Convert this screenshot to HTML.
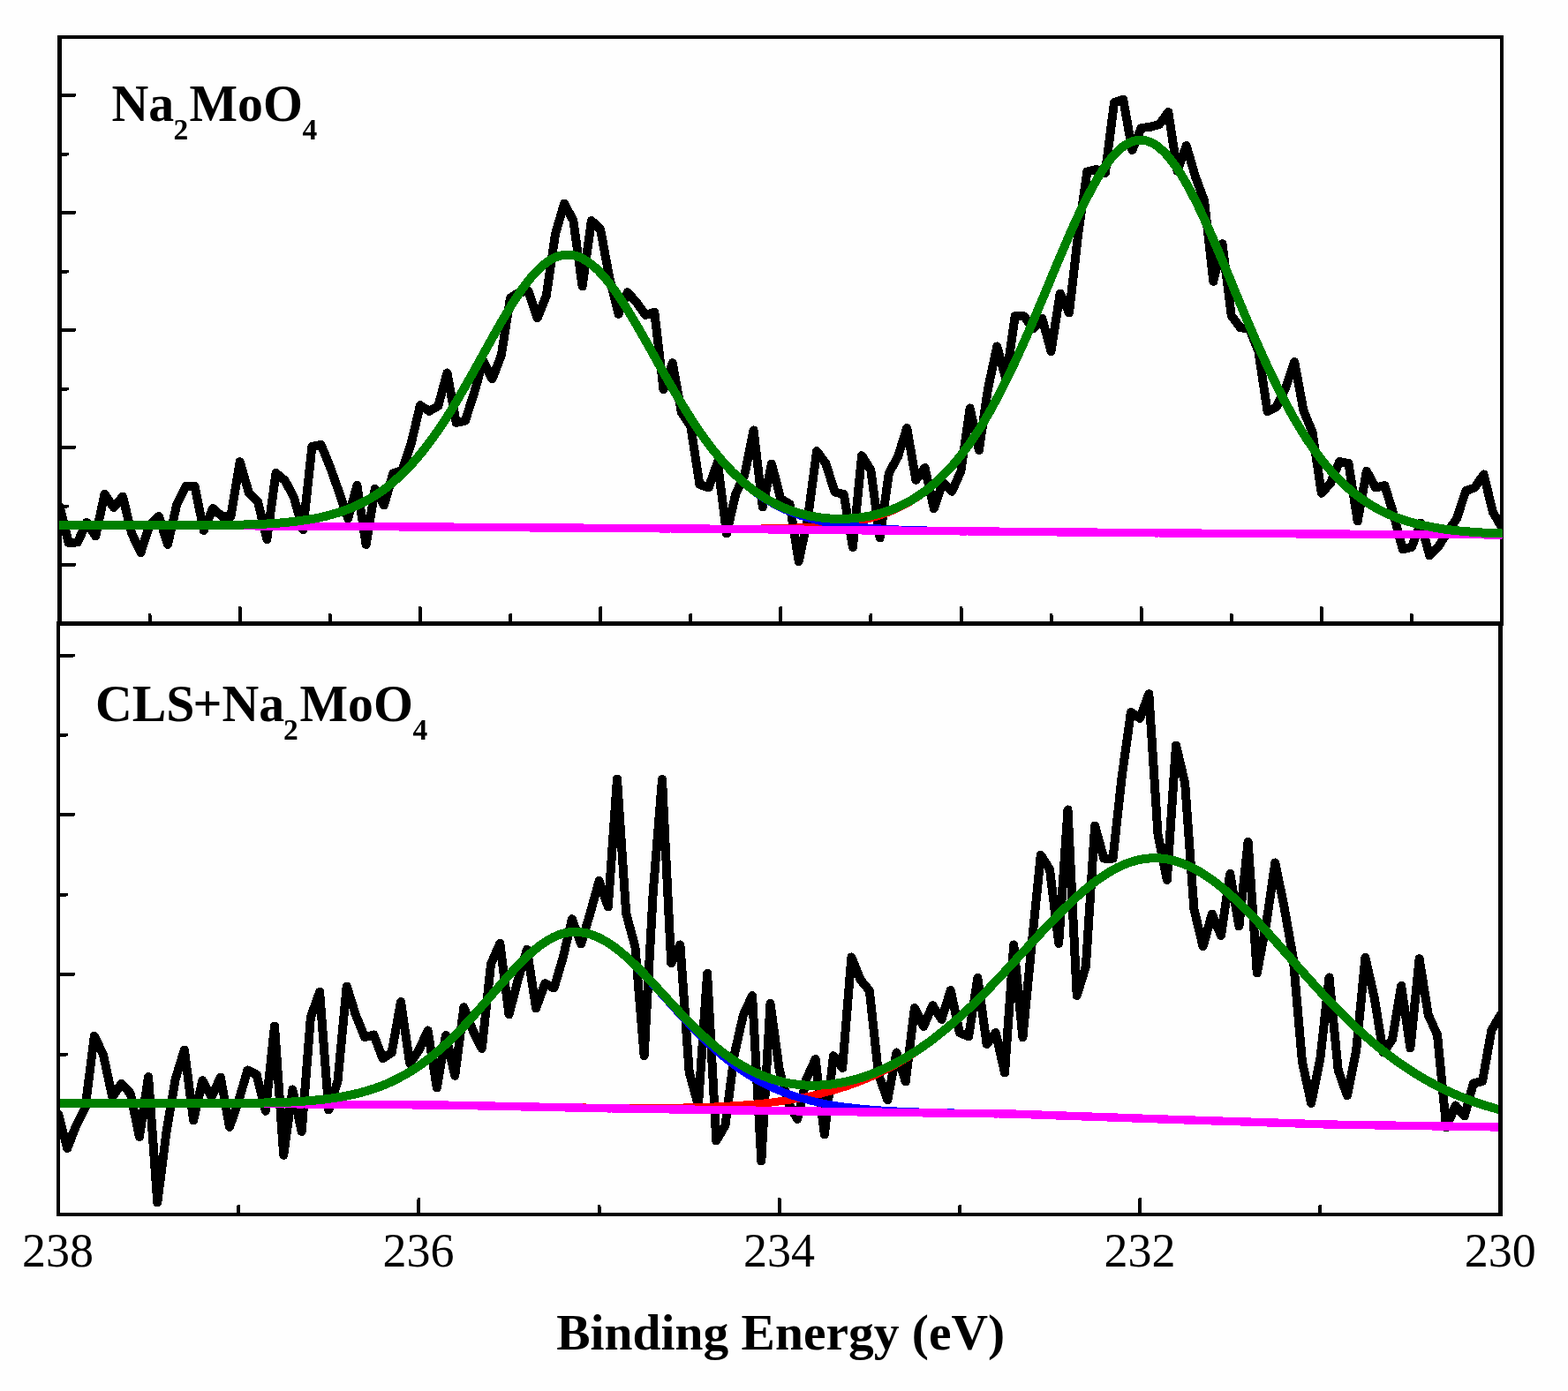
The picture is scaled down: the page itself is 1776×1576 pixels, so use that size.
<!DOCTYPE html>
<html lang="en"><head><meta charset="utf-8"><title>XPS Mo 3d spectra</title>
<style>html,body{margin:0;padding:0;background:#fefefe}svg{display:block}</style></head>
<body>
<svg width="1776" height="1576" viewBox="0 0 1776 1576">
<rect width="1776" height="1576" fill="#fefefe"/>
<g fill="#000" shape-rendering="crispEdges">
<rect x="65" y="40" width="5" height="669"/>
<rect x="65" y="40" width="1638" height="4"/>
<rect x="1699" y="40" width="4" height="669"/>
<rect x="64" y="704" width="1639" height="5"/>
<rect x="64" y="704" width="4" height="674"/>
<rect x="1697" y="704" width="5" height="674"/>
<rect x="64" y="1374" width="1638" height="4"/>
</g>
<defs><clipPath id="ct"><rect x="67" y="44" width="1635" height="660"/></clipPath><clipPath id="cb"><rect x="68" y="709" width="1629" height="665"/></clipPath></defs>
<g fill="none" stroke-width="9.4" stroke-linejoin="round" stroke-linecap="round" shape-rendering="crispEdges" clip-path="url(#ct)">
<polyline points="67.5,573.5 77.7,614.9 87.9,614.4 98.1,591.9 108.3,607.4 118.5,559.9 128.8,574.9 139.0,562.7 149.2,604.4 159.4,626.1 169.6,594.4 179.8,584.9 190.0,616.9 200.2,571.9 210.4,551.0 220.6,551.0 230.8,601.1 241.1,576.0 251.3,584.9 261.5,584.9 271.7,523.0 281.9,558.5 292.1,568.5 302.3,611.1 312.5,536.0 322.7,544.3 332.9,563.5 343.2,600.2 353.4,506.0 363.6,503.8 373.8,528.8 384.0,557.5 394.2,587.5 404.4,550.0 414.6,617.0 424.8,553.8 435.0,572.5 445.2,536.2 455.5,533.0 465.7,502.5 475.9,459.2 486.1,465.8 496.3,460.0 506.5,422.5 516.7,478.8 526.9,476.8 537.1,445.0 547.3,408.8 557.5,429.5 567.8,402.5 578.0,337.5 588.2,331.2 598.4,330.0 608.6,360.5 618.8,335.0 629.0,265.0 639.2,230.5 649.4,250.0 659.6,324.5 669.9,250.0 680.1,260.0 690.3,315.0 700.5,355.8 710.7,331.2 720.9,342.5 731.1,357.0 741.3,353.8 751.5,441.2 761.7,411.2 771.9,467.5 782.2,482.5 792.4,548.8 802.6,552.5 812.8,523.8 823.0,604.5 833.2,560.0 843.4,537.5 853.6,487.5 863.8,574.5 874.0,525.5 884.2,565.0 894.5,571.2 904.7,636.2 914.9,587.5 925.1,511.2 935.3,525.0 945.5,557.5 955.7,560.0 965.9,620.0 976.1,516.2 986.3,532.5 996.6,609.5 1006.8,536.2 1017.0,517.5 1027.2,485.0 1037.4,543.8 1047.6,530.0 1057.8,576.2 1068.0,546.2 1078.2,556.8 1088.4,533.8 1098.6,462.5 1108.9,510.0 1119.1,440.0 1129.3,392.5 1139.5,430.0 1149.7,358.2 1159.9,358.2 1170.1,372.5 1180.3,360.5 1190.5,398.0 1200.7,332.5 1211.0,354.5 1221.2,265.0 1231.4,194.5 1241.6,192.0 1251.8,196.2 1262.0,116.2 1272.2,112.5 1282.4,170.0 1292.6,145.0 1302.8,143.8 1313.0,141.2 1323.3,127.0 1333.5,193.8 1343.7,165.0 1353.9,200.0 1364.1,227.5 1374.3,318.8 1384.5,276.2 1394.7,357.5 1404.9,371.2 1415.1,372.5 1425.3,397.5 1435.6,466.2 1445.8,461.2 1456.0,440.0 1466.2,410.0 1476.4,465.0 1486.6,490.0 1496.8,558.8 1507.0,547.5 1517.2,523.0 1527.4,525.0 1537.7,590.5 1547.9,533.8 1558.1,552.5 1568.3,550.0 1578.5,582.5 1588.7,622.5 1598.9,620.0 1609.1,592.5 1619.3,629.5 1629.5,618.8 1639.7,602.5 1650.0,587.5 1660.2,556.2 1670.4,552.5 1680.6,537.5 1690.8,580.0 1701.0,597.5" stroke="#000" stroke-width="10"/><polyline points="67.5,573.5 77.7,614.9 87.9,614.4 98.1,591.9 108.3,607.4 118.5,559.9 128.8,574.9 139.0,562.7 149.2,604.4 159.4,626.1 169.6,594.4 179.8,584.9 190.0,616.9 200.2,571.9 210.4,551.0 220.6,551.0 230.8,601.1 241.1,576.0 251.3,584.9 261.5,584.9 271.7,523.0 281.9,558.5 292.1,568.5 302.3,611.1 312.5,536.0 322.7,544.3 332.9,563.5 343.2,600.2 353.4,506.0 363.6,503.8 373.8,528.8 384.0,557.5 394.2,587.5 404.4,550.0 414.6,617.0 424.8,553.8 435.0,572.5 445.2,536.2 455.5,533.0 465.7,502.5 475.9,459.2 486.1,465.8 496.3,460.0 506.5,422.5 516.7,478.8 526.9,476.8 537.1,445.0 547.3,408.8 557.5,429.5 567.8,402.5 578.0,337.5 588.2,331.2 598.4,330.0 608.6,360.5 618.8,335.0 629.0,265.0 639.2,230.5 649.4,250.0 659.6,324.5 669.9,250.0 680.1,260.0 690.3,315.0 700.5,355.8 710.7,331.2 720.9,342.5 731.1,357.0 741.3,353.8 751.5,441.2 761.7,411.2 771.9,467.5 782.2,482.5 792.4,548.8 802.6,552.5 812.8,523.8 823.0,604.5 833.2,560.0 843.4,537.5 853.6,487.5 863.8,574.5 874.0,525.5 884.2,565.0 894.5,571.2 904.7,636.2 914.9,587.5 925.1,511.2 935.3,525.0 945.5,557.5 955.7,560.0 965.9,620.0 976.1,516.2 986.3,532.5 996.6,609.5 1006.8,536.2 1017.0,517.5 1027.2,485.0 1037.4,543.8 1047.6,530.0 1057.8,576.2 1068.0,546.2 1078.2,556.8 1088.4,533.8 1098.6,462.5 1108.9,510.0 1119.1,440.0 1129.3,392.5 1139.5,430.0 1149.7,358.2 1159.9,358.2 1170.1,372.5 1180.3,360.5 1190.5,398.0 1200.7,332.5 1211.0,354.5 1221.2,265.0 1231.4,194.5 1241.6,192.0 1251.8,196.2 1262.0,116.2 1272.2,112.5 1282.4,170.0 1292.6,145.0 1302.8,143.8 1313.0,141.2 1323.3,127.0 1333.5,193.8 1343.7,165.0 1353.9,200.0 1364.1,227.5 1374.3,318.8 1384.5,276.2 1394.7,357.5 1404.9,371.2 1415.1,372.5 1425.3,397.5 1435.6,466.2 1445.8,461.2 1456.0,440.0 1466.2,410.0 1476.4,465.0 1486.6,490.0 1496.8,558.8 1507.0,547.5 1517.2,523.0 1527.4,525.0 1537.7,590.5 1547.9,533.8 1558.1,552.5 1568.3,550.0 1578.5,582.5 1588.7,622.5 1598.9,620.0 1609.1,592.5 1619.3,629.5 1629.5,618.8 1639.7,602.5 1650.0,587.5 1660.2,556.2 1670.4,552.5 1680.6,537.5 1690.8,580.0 1701.0,597.5" stroke="#000" stroke-width="7" shape-rendering="geometricPrecision"/>
<polyline points="67.5,594.7 71.6,594.7 75.7,594.7 79.8,594.8 83.9,594.8 88.0,594.8 92.1,594.8 96.2,594.8 100.3,594.9 104.3,594.9 108.4,594.9 112.5,594.9 116.6,594.9 120.7,595.0 124.8,595.0 128.9,595.0 133.0,595.0 137.1,595.0 141.2,595.1 145.3,595.1 149.4,595.1 153.5,595.1 157.6,595.1 161.7,595.1 165.8,595.2 169.8,595.2 173.9,595.2 178.0,595.2 182.1,595.2 186.2,595.3 190.3,595.3 194.4,595.3 198.5,595.3 202.6,595.3 206.7,595.4 210.8,595.4 214.9,595.4 219.0,595.4 223.1,595.4 227.2,595.5 231.3,595.5 235.4,595.5 239.4,595.5 243.5,595.5 247.6,595.6 251.7,595.6 255.8,595.6 259.9,595.6 264.0,595.6 268.1,595.7 272.2,595.7 276.3,595.7 280.4,595.7 284.5,595.7 288.6,595.8 292.7,595.8 296.8,595.8 300.9,595.8 305.0,595.8 309.0,595.9 313.1,595.9 317.2,595.9 321.3,595.9 325.4,595.9 329.5,595.9 333.6,596.0 337.7,596.0 341.8,596.0 345.9,596.0 350.0,596.1 354.1,596.1 358.2,596.1 362.3,596.2 366.4,596.2 370.5,596.2 374.5,596.2 378.6,596.3 382.7,596.3 386.8,596.3 390.9,596.3 395.0,596.4 399.1,596.4 403.2,596.4 407.3,596.5 411.4,596.5 415.5,596.5 419.6,596.5 423.7,596.6 427.8,596.6 431.9,596.6 436.0,596.6 440.1,596.7 444.1,596.7 448.2,596.7 452.3,596.8 456.4,596.8 460.5,596.8 464.6,596.8 468.7,596.9 472.8,596.9 476.9,596.9 481.0,597.0 485.1,597.0 489.2,597.0 493.3,597.0 497.4,597.1 501.5,597.1 505.6,597.1 509.7,597.1 513.7,597.2 517.8,597.2 521.9,597.2 526.0,597.3 530.1,597.3 534.2,597.3 538.3,597.3 542.4,597.4 546.5,597.4 550.6,597.4 554.7,597.5 558.8,597.5 562.9,597.5 567.0,597.5 571.1,597.6 575.2,597.6 579.2,597.6 583.3,597.6 587.4,597.7 591.5,597.7 595.6,597.7 599.7,597.8 603.8,597.8 607.9,597.8 612.0,597.8 616.1,597.9 620.2,597.9 624.3,597.9 628.4,597.9 632.5,598.0 636.6,598.0 640.7,598.0 644.8,598.1 648.8,598.1 652.9,598.1 657.0,598.1 661.1,598.2 665.2,598.2 669.3,598.2 673.4,598.3 677.5,598.3 681.6,598.3 685.7,598.3 689.8,598.4 693.9,598.4 698.0,598.4 702.1,598.4 706.2,598.5 710.3,598.5 714.3,598.5 718.4,598.5 722.5,598.6 726.6,598.6 730.7,598.6 734.8,598.7 738.9,598.7 743.0,598.7 747.1,598.7 751.2,598.8 755.3,598.8 759.4,598.8 763.5,598.8 767.6,598.8 771.7,598.9 775.8,598.9 779.9,598.9 783.9,598.9 788.0,598.9 792.1,599.0 796.2,599.0 800.3,599.0 804.4,599.0 808.5,599.1 812.6,599.1 816.7,599.1 820.8,599.1 824.9,599.1 829.0,599.1 833.1,599.1 837.2,599.1 841.3,599.1 845.4,599.1 849.5,599.1 853.5,599.0 857.6,599.0 861.7,599.0 865.8,598.9 869.9,598.9 874.0,598.8 878.1,598.7 882.2,598.6 886.3,598.5 890.4,598.4 894.5,598.3 898.6,598.2 902.7,598.0 906.8,597.8 910.9,597.6 915.0,597.4 919.0,597.1 923.1,596.8 927.2,596.5 931.3,596.2 935.4,595.8 939.5,595.4 943.6,594.9 947.7,594.4 951.8,593.9 955.9,593.3 960.0,592.6 964.1,591.9 968.2,591.2 972.3,590.3 976.4,589.4 980.5,588.5 984.6,587.4 988.6,586.3 992.7,585.1 996.8,583.7 1000.9,582.3 1005.0,580.8 1009.1,579.1 1013.2,577.4 1017.3,575.5 1021.4,573.5 1025.5,571.3 1029.6,569.1 1033.7,566.6 1037.8,564.0 1041.9,561.2 1046.0,558.3 1050.1,555.2 1054.2,551.9 1058.2,548.4 1062.3,544.7 1066.4,540.8 1070.5,536.6 1074.6,532.3 1078.7,527.7 1082.8,522.9 1086.9,517.9 1091.0,512.6 1095.1,507.1 1099.2,501.4 1103.3,495.3 1107.4,489.1 1111.5,482.6 1115.6,475.8 1119.7,468.8 1123.7,461.5 1127.8,454.0 1131.9,446.2 1136.0,438.2 1140.1,430.0 1144.2,421.6 1148.3,412.9 1152.4,404.1 1156.5,395.1 1160.6,385.8 1164.7,376.5 1168.8,367.0 1172.9,357.4 1177.0,347.7 1181.1,337.9 1185.2,328.1 1189.3,318.3 1193.3,308.5 1197.4,298.7 1201.5,289.0 1205.6,279.4 1209.7,269.9 1213.8,260.6 1217.9,251.5 1222.0,242.7 1226.1,234.1 1230.2,225.8 1234.3,217.9 1238.4,210.3 1242.5,203.1 1246.6,196.4 1250.7,190.1 1254.8,184.4 1258.8,179.1 1262.9,174.5 1267.0,170.3 1271.1,166.8 1275.2,163.9 1279.3,161.6 1283.4,160.0 1287.5,159.0 1291.6,158.6 1295.7,158.9 1299.8,159.9 1303.9,161.5 1308.0,163.7 1312.1,166.6 1316.2,170.1 1320.3,174.1 1324.4,178.8 1328.4,184.0 1332.5,189.7 1336.6,195.9 1340.7,202.6 1344.8,209.8 1348.9,217.3 1353.0,225.3 1357.1,233.5 1361.2,242.1 1365.3,251.0 1369.4,260.1 1373.5,269.5 1377.6,279.0 1381.7,288.6 1385.8,298.3 1389.9,308.2 1394.0,318.0 1398.0,327.9 1402.1,337.8 1406.2,347.6 1410.3,357.4 1414.4,367.1 1418.5,376.7 1422.6,386.1 1426.7,395.4 1430.8,404.5 1434.9,413.5 1439.0,422.2 1443.1,430.8 1447.2,439.1 1451.3,447.2 1455.4,455.1 1459.5,462.7 1463.5,470.1 1467.6,477.2 1471.7,484.1 1475.8,490.7 1479.9,497.1 1484.0,503.2 1488.1,509.1 1492.2,514.7 1496.3,520.1 1500.4,525.2 1504.5,530.1 1508.6,534.8 1512.7,539.2 1516.8,543.5 1520.9,547.5 1525.0,551.3 1529.1,554.9 1533.1,558.3 1537.2,561.5 1541.3,564.6 1545.4,567.4 1549.5,570.1 1553.6,572.7 1557.7,575.1 1561.8,577.3 1565.9,579.4 1570.0,581.4 1574.1,583.2 1578.2,585.0 1582.3,586.5 1586.4,588.0 1590.5,589.4 1594.6,590.7 1598.7,591.9 1602.7,593.0 1606.8,594.1 1610.9,595.0 1615.0,595.9 1619.1,596.7 1623.2,597.5 1627.3,598.2 1631.4,598.9 1635.5,599.5 1639.6,600.0 1643.7,600.5 1647.8,601.0 1651.9,601.4 1656.0,601.8 1660.1,602.2 1664.2,602.5 1668.2,602.8 1672.3,603.1 1676.4,603.4 1680.5,603.6 1684.6,603.8 1688.7,604.0 1692.8,604.2 1696.9,604.4 1701.0,604.5" stroke="#ff0000" stroke-width="9"/><polyline points="67.5,594.7 71.6,594.7 75.7,594.7 79.8,594.8 83.9,594.8 88.0,594.8 92.1,594.8 96.2,594.8 100.3,594.9 104.3,594.9 108.4,594.9 112.5,594.9 116.6,594.9 120.7,595.0 124.8,595.0 128.9,595.0 133.0,595.0 137.1,595.0 141.2,595.1 145.3,595.1 149.4,595.1 153.5,595.1 157.6,595.1 161.7,595.1 165.8,595.2 169.8,595.2 173.9,595.2 178.0,595.2 182.1,595.2 186.2,595.3 190.3,595.3 194.4,595.3 198.5,595.3 202.6,595.3 206.7,595.4 210.8,595.4 214.9,595.4 219.0,595.4 223.1,595.4 227.2,595.5 231.3,595.5 235.4,595.5 239.4,595.5 243.5,595.5 247.6,595.6 251.7,595.6 255.8,595.6 259.9,595.6 264.0,595.6 268.1,595.7 272.2,595.7 276.3,595.7 280.4,595.7 284.5,595.7 288.6,595.8 292.7,595.8 296.8,595.8 300.9,595.8 305.0,595.8 309.0,595.9 313.1,595.9 317.2,595.9 321.3,595.9 325.4,595.9 329.5,595.9 333.6,596.0 337.7,596.0 341.8,596.0 345.9,596.0 350.0,596.1 354.1,596.1 358.2,596.1 362.3,596.2 366.4,596.2 370.5,596.2 374.5,596.2 378.6,596.3 382.7,596.3 386.8,596.3 390.9,596.3 395.0,596.4 399.1,596.4 403.2,596.4 407.3,596.5 411.4,596.5 415.5,596.5 419.6,596.5 423.7,596.6 427.8,596.6 431.9,596.6 436.0,596.6 440.1,596.7 444.1,596.7 448.2,596.7 452.3,596.8 456.4,596.8 460.5,596.8 464.6,596.8 468.7,596.9 472.8,596.9 476.9,596.9 481.0,597.0 485.1,597.0 489.2,597.0 493.3,597.0 497.4,597.1 501.5,597.1 505.6,597.1 509.7,597.1 513.7,597.2 517.8,597.2 521.9,597.2 526.0,597.3 530.1,597.3 534.2,597.3 538.3,597.3 542.4,597.4 546.5,597.4 550.6,597.4 554.7,597.5 558.8,597.5 562.9,597.5 567.0,597.5 571.1,597.6 575.2,597.6 579.2,597.6 583.3,597.6 587.4,597.7 591.5,597.7 595.6,597.7 599.7,597.8 603.8,597.8 607.9,597.8 612.0,597.8 616.1,597.9 620.2,597.9 624.3,597.9 628.4,597.9 632.5,598.0 636.6,598.0 640.7,598.0 644.8,598.1 648.8,598.1 652.9,598.1 657.0,598.1 661.1,598.2 665.2,598.2 669.3,598.2 673.4,598.3 677.5,598.3 681.6,598.3 685.7,598.3 689.8,598.4 693.9,598.4 698.0,598.4 702.1,598.4 706.2,598.5 710.3,598.5 714.3,598.5 718.4,598.5 722.5,598.6 726.6,598.6 730.7,598.6 734.8,598.7 738.9,598.7 743.0,598.7 747.1,598.7 751.2,598.8 755.3,598.8 759.4,598.8 763.5,598.8 767.6,598.8 771.7,598.9 775.8,598.9 779.9,598.9 783.9,598.9 788.0,598.9 792.1,599.0 796.2,599.0 800.3,599.0 804.4,599.0 808.5,599.1 812.6,599.1 816.7,599.1 820.8,599.1 824.9,599.1 829.0,599.1 833.1,599.1 837.2,599.1 841.3,599.1 845.4,599.1 849.5,599.1 853.5,599.0 857.6,599.0 861.7,599.0 865.8,598.9 869.9,598.9 874.0,598.8 878.1,598.7 882.2,598.6 886.3,598.5 890.4,598.4 894.5,598.3 898.6,598.2 902.7,598.0 906.8,597.8 910.9,597.6 915.0,597.4 919.0,597.1 923.1,596.8 927.2,596.5 931.3,596.2 935.4,595.8 939.5,595.4 943.6,594.9 947.7,594.4 951.8,593.9 955.9,593.3 960.0,592.6 964.1,591.9 968.2,591.2 972.3,590.3 976.4,589.4 980.5,588.5 984.6,587.4 988.6,586.3 992.7,585.1 996.8,583.7 1000.9,582.3 1005.0,580.8 1009.1,579.1 1013.2,577.4 1017.3,575.5 1021.4,573.5 1025.5,571.3 1029.6,569.1 1033.7,566.6 1037.8,564.0 1041.9,561.2 1046.0,558.3 1050.1,555.2 1054.2,551.9 1058.2,548.4 1062.3,544.7 1066.4,540.8 1070.5,536.6 1074.6,532.3 1078.7,527.7 1082.8,522.9 1086.9,517.9 1091.0,512.6 1095.1,507.1 1099.2,501.4 1103.3,495.3 1107.4,489.1 1111.5,482.6 1115.6,475.8 1119.7,468.8 1123.7,461.5 1127.8,454.0 1131.9,446.2 1136.0,438.2 1140.1,430.0 1144.2,421.6 1148.3,412.9 1152.4,404.1 1156.5,395.1 1160.6,385.8 1164.7,376.5 1168.8,367.0 1172.9,357.4 1177.0,347.7 1181.1,337.9 1185.2,328.1 1189.3,318.3 1193.3,308.5 1197.4,298.7 1201.5,289.0 1205.6,279.4 1209.7,269.9 1213.8,260.6 1217.9,251.5 1222.0,242.7 1226.1,234.1 1230.2,225.8 1234.3,217.9 1238.4,210.3 1242.5,203.1 1246.6,196.4 1250.7,190.1 1254.8,184.4 1258.8,179.1 1262.9,174.5 1267.0,170.3 1271.1,166.8 1275.2,163.9 1279.3,161.6 1283.4,160.0 1287.5,159.0 1291.6,158.6 1295.7,158.9 1299.8,159.9 1303.9,161.5 1308.0,163.7 1312.1,166.6 1316.2,170.1 1320.3,174.1 1324.4,178.8 1328.4,184.0 1332.5,189.7 1336.6,195.9 1340.7,202.6 1344.8,209.8 1348.9,217.3 1353.0,225.3 1357.1,233.5 1361.2,242.1 1365.3,251.0 1369.4,260.1 1373.5,269.5 1377.6,279.0 1381.7,288.6 1385.8,298.3 1389.9,308.2 1394.0,318.0 1398.0,327.9 1402.1,337.8 1406.2,347.6 1410.3,357.4 1414.4,367.1 1418.5,376.7 1422.6,386.1 1426.7,395.4 1430.8,404.5 1434.9,413.5 1439.0,422.2 1443.1,430.8 1447.2,439.1 1451.3,447.2 1455.4,455.1 1459.5,462.7 1463.5,470.1 1467.6,477.2 1471.7,484.1 1475.8,490.7 1479.9,497.1 1484.0,503.2 1488.1,509.1 1492.2,514.7 1496.3,520.1 1500.4,525.2 1504.5,530.1 1508.6,534.8 1512.7,539.2 1516.8,543.5 1520.9,547.5 1525.0,551.3 1529.1,554.9 1533.1,558.3 1537.2,561.5 1541.3,564.6 1545.4,567.4 1549.5,570.1 1553.6,572.7 1557.7,575.1 1561.8,577.3 1565.9,579.4 1570.0,581.4 1574.1,583.2 1578.2,585.0 1582.3,586.5 1586.4,588.0 1590.5,589.4 1594.6,590.7 1598.7,591.9 1602.7,593.0 1606.8,594.1 1610.9,595.0 1615.0,595.9 1619.1,596.7 1623.2,597.5 1627.3,598.2 1631.4,598.9 1635.5,599.5 1639.6,600.0 1643.7,600.5 1647.8,601.0 1651.9,601.4 1656.0,601.8 1660.1,602.2 1664.2,602.5 1668.2,602.8 1672.3,603.1 1676.4,603.4 1680.5,603.6 1684.6,603.8 1688.7,604.0 1692.8,604.2 1696.9,604.4 1701.0,604.5" stroke="#ff0000" stroke-width="6" shape-rendering="geometricPrecision"/>
<polyline points="67.5,594.7 71.6,594.7 75.7,594.7 79.8,594.8 83.9,594.8 88.0,594.8 92.1,594.8 96.2,594.8 100.3,594.9 104.3,594.9 108.4,594.9 112.5,594.9 116.6,594.9 120.7,594.9 124.8,595.0 128.9,595.0 133.0,595.0 137.1,595.0 141.2,595.0 145.3,595.1 149.4,595.1 153.5,595.1 157.6,595.1 161.7,595.1 165.8,595.1 169.8,595.1 173.9,595.2 178.0,595.2 182.1,595.2 186.2,595.2 190.3,595.2 194.4,595.2 198.5,595.2 202.6,595.2 206.7,595.2 210.8,595.2 214.9,595.2 219.0,595.2 223.1,595.2 227.2,595.2 231.3,595.2 235.4,595.1 239.4,595.1 243.5,595.1 247.6,595.0 251.7,595.0 255.8,594.9 259.9,594.9 264.0,594.8 268.1,594.7 272.2,594.6 276.3,594.5 280.4,594.4 284.5,594.3 288.6,594.1 292.7,593.9 296.8,593.8 300.9,593.6 305.0,593.3 309.0,593.1 313.1,592.8 317.2,592.5 321.3,592.1 325.4,591.7 329.5,591.3 333.6,590.9 337.7,590.4 341.8,589.8 345.9,589.2 350.0,588.6 354.1,587.9 358.2,587.1 362.3,586.3 366.4,585.4 370.5,584.4 374.5,583.3 378.6,582.1 382.7,580.9 386.8,579.6 390.9,578.1 395.0,576.6 399.1,574.9 403.2,573.1 407.3,571.2 411.4,569.1 415.5,567.0 419.6,564.6 423.7,562.1 427.8,559.5 431.9,556.7 436.0,553.7 440.1,550.6 444.1,547.2 448.2,543.7 452.3,540.0 456.4,536.1 460.5,532.0 464.6,527.7 468.7,523.2 472.8,518.4 476.9,513.5 481.0,508.4 485.1,503.0 489.2,497.5 493.3,491.8 497.4,485.8 501.5,479.7 505.6,473.4 509.7,466.9 513.7,460.3 517.8,453.5 521.9,446.5 526.0,439.5 530.1,432.3 534.2,425.0 538.3,417.7 542.4,410.3 546.5,402.9 550.6,395.5 554.7,388.1 558.8,380.7 562.9,373.5 567.0,366.3 571.1,359.3 575.2,352.4 579.2,345.8 583.3,339.4 587.4,333.2 591.5,327.3 595.6,321.7 599.7,316.5 603.8,311.7 607.9,307.2 612.0,303.2 616.1,299.7 620.2,296.6 624.3,293.9 628.4,291.8 632.5,290.2 636.6,289.2 640.7,288.6 644.8,288.6 648.8,289.1 652.9,290.1 657.0,291.6 661.1,293.7 665.2,296.2 669.3,299.1 673.4,302.5 677.5,306.4 681.6,310.7 685.7,315.4 689.8,320.4 693.9,325.8 698.0,331.5 702.1,337.5 706.2,343.7 710.3,350.2 714.3,356.9 718.4,363.7 722.5,370.7 726.6,377.9 730.7,385.1 734.8,392.3 738.9,399.7 743.0,407.0 747.1,414.3 751.2,421.6 755.3,428.8 759.4,435.9 763.5,443.0 767.6,449.9 771.7,456.8 775.8,463.5 779.9,470.0 783.9,476.4 788.0,482.6 792.1,488.6 796.2,494.5 800.3,500.2 804.4,505.7 808.5,510.9 812.6,516.0 816.7,520.9 820.8,525.6 824.9,530.1 829.0,534.4 833.1,538.5 837.2,542.4 841.3,546.1 845.4,549.6 849.5,553.0 853.5,556.2 857.6,559.2 861.7,562.0 865.8,564.7 869.9,567.3 874.0,569.7 878.1,571.9 882.2,574.0 886.3,576.0 890.4,577.9 894.5,579.6 898.6,581.2 902.7,582.8 906.8,584.2 910.9,585.5 915.0,586.7 919.0,587.9 923.1,588.9 927.2,589.9 931.3,590.9 935.4,591.7 939.5,592.5 943.6,593.2 947.7,593.9 951.8,594.5 955.9,595.1 960.0,595.7 964.1,596.1 968.2,596.6 972.3,597.0 976.4,597.4 980.5,597.8 984.6,598.1 988.6,598.4 992.7,598.7 996.8,598.9 1000.9,599.2 1005.0,599.4 1009.1,599.6 1013.2,599.8 1017.3,600.0 1021.4,600.1 1025.5,600.3 1029.6,600.4 1033.7,600.5 1037.8,600.6 1041.9,600.8 1046.0,600.9 1050.1,601.0 1054.2,601.0 1058.2,601.1 1062.3,601.2 1066.4,601.3 1070.5,601.4 1074.6,601.4 1078.7,601.5 1082.8,601.5 1086.9,601.6 1091.0,601.7 1095.1,601.7 1099.2,601.8 1103.3,601.8 1107.4,601.9 1111.5,601.9 1115.6,602.0 1119.7,602.0 1123.7,602.1 1127.8,602.1 1131.9,602.1 1136.0,602.2 1140.1,602.2 1144.2,602.3 1148.3,602.3 1152.4,602.3 1156.5,602.4 1160.6,602.4 1164.7,602.5 1168.8,602.5 1172.9,602.5 1177.0,602.6 1181.1,602.6 1185.2,602.7 1189.3,602.7 1193.3,602.7 1197.4,602.8 1201.5,602.8 1205.6,602.8 1209.7,602.9 1213.8,602.9 1217.9,603.0 1222.0,603.0 1226.1,603.0 1230.2,603.1 1234.3,603.1 1238.4,603.1 1242.5,603.2 1246.6,603.2 1250.7,603.3 1254.8,603.3 1258.8,603.3 1262.9,603.4 1267.0,603.4 1271.1,603.4 1275.2,603.5 1279.3,603.5 1283.4,603.6 1287.5,603.6 1291.6,603.6 1295.7,603.7 1299.8,603.7 1303.9,603.7 1308.0,603.8 1312.1,603.8 1316.2,603.9 1320.3,603.9 1324.4,603.9 1328.4,604.0 1332.5,604.0 1336.6,604.0 1340.7,604.0 1344.8,604.1 1348.9,604.1 1353.0,604.1 1357.1,604.1 1361.2,604.2 1365.3,604.2 1369.4,604.2 1373.5,604.2 1377.6,604.3 1381.7,604.3 1385.8,604.3 1389.9,604.3 1394.0,604.4 1398.0,604.4 1402.1,604.4 1406.2,604.4 1410.3,604.4 1414.4,604.5 1418.5,604.5 1422.6,604.5 1426.7,604.5 1430.8,604.6 1434.9,604.6 1439.0,604.6 1443.1,604.6 1447.2,604.7 1451.3,604.7 1455.4,604.7 1459.5,604.7 1463.5,604.7 1467.6,604.8 1471.7,604.8 1475.8,604.8 1479.9,604.8 1484.0,604.9 1488.1,604.9 1492.2,604.9 1496.3,604.9 1500.4,605.0 1504.5,605.0 1508.6,605.0 1512.7,605.1 1516.8,605.1 1520.9,605.1 1525.0,605.1 1529.1,605.2 1533.1,605.2 1537.2,605.2 1541.3,605.3 1545.4,605.3 1549.5,605.3 1553.6,605.3 1557.7,605.4 1561.8,605.4 1565.9,605.4 1570.0,605.5 1574.1,605.5 1578.2,605.5 1582.3,605.5 1586.4,605.5 1590.5,605.5 1594.6,605.5 1598.7,605.6 1602.7,605.6 1606.8,605.6 1610.9,605.6 1615.0,605.6 1619.1,605.6 1623.2,605.6 1627.3,605.6 1631.4,605.6 1635.5,605.6 1639.6,605.7 1643.7,605.7 1647.8,605.7 1651.9,605.7 1656.0,605.7 1660.1,605.7 1664.2,605.7 1668.2,605.7 1672.3,605.7 1676.4,605.7 1680.5,605.8 1684.6,605.8 1688.7,605.8 1692.8,605.8 1696.9,605.8 1701.0,605.8" stroke="#0000ff" stroke-width="9"/><polyline points="67.5,594.7 71.6,594.7 75.7,594.7 79.8,594.8 83.9,594.8 88.0,594.8 92.1,594.8 96.2,594.8 100.3,594.9 104.3,594.9 108.4,594.9 112.5,594.9 116.6,594.9 120.7,594.9 124.8,595.0 128.9,595.0 133.0,595.0 137.1,595.0 141.2,595.0 145.3,595.1 149.4,595.1 153.5,595.1 157.6,595.1 161.7,595.1 165.8,595.1 169.8,595.1 173.9,595.2 178.0,595.2 182.1,595.2 186.2,595.2 190.3,595.2 194.4,595.2 198.5,595.2 202.6,595.2 206.7,595.2 210.8,595.2 214.9,595.2 219.0,595.2 223.1,595.2 227.2,595.2 231.3,595.2 235.4,595.1 239.4,595.1 243.5,595.1 247.6,595.0 251.7,595.0 255.8,594.9 259.9,594.9 264.0,594.8 268.1,594.7 272.2,594.6 276.3,594.5 280.4,594.4 284.5,594.3 288.6,594.1 292.7,593.9 296.8,593.8 300.9,593.6 305.0,593.3 309.0,593.1 313.1,592.8 317.2,592.5 321.3,592.1 325.4,591.7 329.5,591.3 333.6,590.9 337.7,590.4 341.8,589.8 345.9,589.2 350.0,588.6 354.1,587.9 358.2,587.1 362.3,586.3 366.4,585.4 370.5,584.4 374.5,583.3 378.6,582.1 382.7,580.9 386.8,579.6 390.9,578.1 395.0,576.6 399.1,574.9 403.2,573.1 407.3,571.2 411.4,569.1 415.5,567.0 419.6,564.6 423.7,562.1 427.8,559.5 431.9,556.7 436.0,553.7 440.1,550.6 444.1,547.2 448.2,543.7 452.3,540.0 456.4,536.1 460.5,532.0 464.6,527.7 468.7,523.2 472.8,518.4 476.9,513.5 481.0,508.4 485.1,503.0 489.2,497.5 493.3,491.8 497.4,485.8 501.5,479.7 505.6,473.4 509.7,466.9 513.7,460.3 517.8,453.5 521.9,446.5 526.0,439.5 530.1,432.3 534.2,425.0 538.3,417.7 542.4,410.3 546.5,402.9 550.6,395.5 554.7,388.1 558.8,380.7 562.9,373.5 567.0,366.3 571.1,359.3 575.2,352.4 579.2,345.8 583.3,339.4 587.4,333.2 591.5,327.3 595.6,321.7 599.7,316.5 603.8,311.7 607.9,307.2 612.0,303.2 616.1,299.7 620.2,296.6 624.3,293.9 628.4,291.8 632.5,290.2 636.6,289.2 640.7,288.6 644.8,288.6 648.8,289.1 652.9,290.1 657.0,291.6 661.1,293.7 665.2,296.2 669.3,299.1 673.4,302.5 677.5,306.4 681.6,310.7 685.7,315.4 689.8,320.4 693.9,325.8 698.0,331.5 702.1,337.5 706.2,343.7 710.3,350.2 714.3,356.9 718.4,363.7 722.5,370.7 726.6,377.9 730.7,385.1 734.8,392.3 738.9,399.7 743.0,407.0 747.1,414.3 751.2,421.6 755.3,428.8 759.4,435.9 763.5,443.0 767.6,449.9 771.7,456.8 775.8,463.5 779.9,470.0 783.9,476.4 788.0,482.6 792.1,488.6 796.2,494.5 800.3,500.2 804.4,505.7 808.5,510.9 812.6,516.0 816.7,520.9 820.8,525.6 824.9,530.1 829.0,534.4 833.1,538.5 837.2,542.4 841.3,546.1 845.4,549.6 849.5,553.0 853.5,556.2 857.6,559.2 861.7,562.0 865.8,564.7 869.9,567.3 874.0,569.7 878.1,571.9 882.2,574.0 886.3,576.0 890.4,577.9 894.5,579.6 898.6,581.2 902.7,582.8 906.8,584.2 910.9,585.5 915.0,586.7 919.0,587.9 923.1,588.9 927.2,589.9 931.3,590.9 935.4,591.7 939.5,592.5 943.6,593.2 947.7,593.9 951.8,594.5 955.9,595.1 960.0,595.7 964.1,596.1 968.2,596.6 972.3,597.0 976.4,597.4 980.5,597.8 984.6,598.1 988.6,598.4 992.7,598.7 996.8,598.9 1000.9,599.2 1005.0,599.4 1009.1,599.6 1013.2,599.8 1017.3,600.0 1021.4,600.1 1025.5,600.3 1029.6,600.4 1033.7,600.5 1037.8,600.6 1041.9,600.8 1046.0,600.9 1050.1,601.0 1054.2,601.0 1058.2,601.1 1062.3,601.2 1066.4,601.3 1070.5,601.4 1074.6,601.4 1078.7,601.5 1082.8,601.5 1086.9,601.6 1091.0,601.7 1095.1,601.7 1099.2,601.8 1103.3,601.8 1107.4,601.9 1111.5,601.9 1115.6,602.0 1119.7,602.0 1123.7,602.1 1127.8,602.1 1131.9,602.1 1136.0,602.2 1140.1,602.2 1144.2,602.3 1148.3,602.3 1152.4,602.3 1156.5,602.4 1160.6,602.4 1164.7,602.5 1168.8,602.5 1172.9,602.5 1177.0,602.6 1181.1,602.6 1185.2,602.7 1189.3,602.7 1193.3,602.7 1197.4,602.8 1201.5,602.8 1205.6,602.8 1209.7,602.9 1213.8,602.9 1217.9,603.0 1222.0,603.0 1226.1,603.0 1230.2,603.1 1234.3,603.1 1238.4,603.1 1242.5,603.2 1246.6,603.2 1250.7,603.3 1254.8,603.3 1258.8,603.3 1262.9,603.4 1267.0,603.4 1271.1,603.4 1275.2,603.5 1279.3,603.5 1283.4,603.6 1287.5,603.6 1291.6,603.6 1295.7,603.7 1299.8,603.7 1303.9,603.7 1308.0,603.8 1312.1,603.8 1316.2,603.9 1320.3,603.9 1324.4,603.9 1328.4,604.0 1332.5,604.0 1336.6,604.0 1340.7,604.0 1344.8,604.1 1348.9,604.1 1353.0,604.1 1357.1,604.1 1361.2,604.2 1365.3,604.2 1369.4,604.2 1373.5,604.2 1377.6,604.3 1381.7,604.3 1385.8,604.3 1389.9,604.3 1394.0,604.4 1398.0,604.4 1402.1,604.4 1406.2,604.4 1410.3,604.4 1414.4,604.5 1418.5,604.5 1422.6,604.5 1426.7,604.5 1430.8,604.6 1434.9,604.6 1439.0,604.6 1443.1,604.6 1447.2,604.7 1451.3,604.7 1455.4,604.7 1459.5,604.7 1463.5,604.7 1467.6,604.8 1471.7,604.8 1475.8,604.8 1479.9,604.8 1484.0,604.9 1488.1,604.9 1492.2,604.9 1496.3,604.9 1500.4,605.0 1504.5,605.0 1508.6,605.0 1512.7,605.1 1516.8,605.1 1520.9,605.1 1525.0,605.1 1529.1,605.2 1533.1,605.2 1537.2,605.2 1541.3,605.3 1545.4,605.3 1549.5,605.3 1553.6,605.3 1557.7,605.4 1561.8,605.4 1565.9,605.4 1570.0,605.5 1574.1,605.5 1578.2,605.5 1582.3,605.5 1586.4,605.5 1590.5,605.5 1594.6,605.5 1598.7,605.6 1602.7,605.6 1606.8,605.6 1610.9,605.6 1615.0,605.6 1619.1,605.6 1623.2,605.6 1627.3,605.6 1631.4,605.6 1635.5,605.6 1639.6,605.7 1643.7,605.7 1647.8,605.7 1651.9,605.7 1656.0,605.7 1660.1,605.7 1664.2,605.7 1668.2,605.7 1672.3,605.7 1676.4,605.7 1680.5,605.8 1684.6,605.8 1688.7,605.8 1692.8,605.8 1696.9,605.8 1701.0,605.8" stroke="#0000ff" stroke-width="6" shape-rendering="geometricPrecision"/>
<polyline points="67.5,594.7 71.6,594.7 75.7,594.7 79.8,594.8 83.9,594.8 88.0,594.8 92.1,594.8 96.2,594.8 100.3,594.9 104.3,594.9 108.4,594.9 112.5,594.9 116.6,594.9 120.7,595.0 124.8,595.0 128.9,595.0 133.0,595.0 137.1,595.0 141.2,595.1 145.3,595.1 149.4,595.1 153.5,595.1 157.6,595.1 161.7,595.1 165.8,595.2 169.8,595.2 173.9,595.2 178.0,595.2 182.1,595.2 186.2,595.3 190.3,595.3 194.4,595.3 198.5,595.3 202.6,595.3 206.7,595.4 210.8,595.4 214.9,595.4 219.0,595.4 223.1,595.4 227.2,595.5 231.3,595.5 235.4,595.5 239.4,595.5 243.5,595.5 247.6,595.6 251.7,595.6 255.8,595.6 259.9,595.6 264.0,595.6 268.1,595.7 272.2,595.7 276.3,595.7 280.4,595.7 284.5,595.7 288.6,595.8 292.7,595.8 296.8,595.8 300.9,595.8 305.0,595.8 309.0,595.9 313.1,595.9 317.2,595.9 321.3,595.9 325.4,595.9 329.5,595.9 333.6,596.0 337.7,596.0 341.8,596.0 345.9,596.0 350.0,596.1 354.1,596.1 358.2,596.1 362.3,596.2 366.4,596.2 370.5,596.2 374.5,596.2 378.6,596.3 382.7,596.3 386.8,596.3 390.9,596.3 395.0,596.4 399.1,596.4 403.2,596.4 407.3,596.5 411.4,596.5 415.5,596.5 419.6,596.5 423.7,596.6 427.8,596.6 431.9,596.6 436.0,596.6 440.1,596.7 444.1,596.7 448.2,596.7 452.3,596.8 456.4,596.8 460.5,596.8 464.6,596.8 468.7,596.9 472.8,596.9 476.9,596.9 481.0,597.0 485.1,597.0 489.2,597.0 493.3,597.0 497.4,597.1 501.5,597.1 505.6,597.1 509.7,597.1 513.7,597.2 517.8,597.2 521.9,597.2 526.0,597.3 530.1,597.3 534.2,597.3 538.3,597.3 542.4,597.4 546.5,597.4 550.6,597.4 554.7,597.5 558.8,597.5 562.9,597.5 567.0,597.5 571.1,597.6 575.2,597.6 579.2,597.6 583.3,597.6 587.4,597.7 591.5,597.7 595.6,597.7 599.7,597.8 603.8,597.8 607.9,597.8 612.0,597.8 616.1,597.9 620.2,597.9 624.3,597.9 628.4,597.9 632.5,598.0 636.6,598.0 640.7,598.0 644.8,598.1 648.8,598.1 652.9,598.1 657.0,598.1 661.1,598.2 665.2,598.2 669.3,598.2 673.4,598.3 677.5,598.3 681.6,598.3 685.7,598.3 689.8,598.4 693.9,598.4 698.0,598.4 702.1,598.4 706.2,598.5 710.3,598.5 714.3,598.5 718.4,598.6 722.5,598.6 726.6,598.6 730.7,598.6 734.8,598.7 738.9,598.7 743.0,598.7 747.1,598.8 751.2,598.8 755.3,598.8 759.4,598.8 763.5,598.9 767.6,598.9 771.7,598.9 775.8,598.9 779.9,599.0 783.9,599.0 788.0,599.0 792.1,599.1 796.2,599.1 800.3,599.1 804.4,599.2 808.5,599.2 812.6,599.3 816.7,599.3 820.8,599.3 824.9,599.4 829.0,599.4 833.1,599.4 837.2,599.5 841.3,599.5 845.4,599.6 849.5,599.6 853.5,599.6 857.6,599.7 861.7,599.7 865.8,599.7 869.9,599.8 874.0,599.8 878.1,599.9 882.2,599.9 886.3,599.9 890.4,600.0 894.5,600.0 898.6,600.0 902.7,600.1 906.8,600.1 910.9,600.2 915.0,600.2 919.0,600.2 923.1,600.3 927.2,600.3 931.3,600.3 935.4,600.4 939.5,600.4 943.6,600.5 947.7,600.5 951.8,600.5 955.9,600.6 960.0,600.6 964.1,600.6 968.2,600.7 972.3,600.7 976.4,600.8 980.5,600.8 984.6,600.8 988.6,600.9 992.7,600.9 996.8,600.9 1000.9,601.0 1005.0,601.0 1009.1,601.1 1013.2,601.1 1017.3,601.1 1021.4,601.2 1025.5,601.2 1029.6,601.2 1033.7,601.3 1037.8,601.3 1041.9,601.4 1046.0,601.4 1050.1,601.4 1054.2,601.5 1058.2,601.5 1062.3,601.5 1066.4,601.6 1070.5,601.6 1074.6,601.7 1078.7,601.7 1082.8,601.7 1086.9,601.8 1091.0,601.8 1095.1,601.8 1099.2,601.9 1103.3,601.9 1107.4,602.0 1111.5,602.0 1115.6,602.0 1119.7,602.1 1123.7,602.1 1127.8,602.1 1131.9,602.2 1136.0,602.2 1140.1,602.2 1144.2,602.3 1148.3,602.3 1152.4,602.4 1156.5,602.4 1160.6,602.4 1164.7,602.5 1168.8,602.5 1172.9,602.5 1177.0,602.6 1181.1,602.6 1185.2,602.7 1189.3,602.7 1193.3,602.7 1197.4,602.8 1201.5,602.8 1205.6,602.8 1209.7,602.9 1213.8,602.9 1217.9,603.0 1222.0,603.0 1226.1,603.0 1230.2,603.1 1234.3,603.1 1238.4,603.1 1242.5,603.2 1246.6,603.2 1250.7,603.3 1254.8,603.3 1258.8,603.3 1262.9,603.4 1267.0,603.4 1271.1,603.4 1275.2,603.5 1279.3,603.5 1283.4,603.6 1287.5,603.6 1291.6,603.6 1295.7,603.7 1299.8,603.7 1303.9,603.7 1308.0,603.8 1312.1,603.8 1316.2,603.9 1320.3,603.9 1324.4,603.9 1328.4,604.0 1332.5,604.0 1336.6,604.0 1340.7,604.0 1344.8,604.1 1348.9,604.1 1353.0,604.1 1357.1,604.1 1361.2,604.2 1365.3,604.2 1369.4,604.2 1373.5,604.2 1377.6,604.3 1381.7,604.3 1385.8,604.3 1389.9,604.3 1394.0,604.4 1398.0,604.4 1402.1,604.4 1406.2,604.4 1410.3,604.4 1414.4,604.5 1418.5,604.5 1422.6,604.5 1426.7,604.5 1430.8,604.6 1434.9,604.6 1439.0,604.6 1443.1,604.6 1447.2,604.7 1451.3,604.7 1455.4,604.7 1459.5,604.7 1463.5,604.7 1467.6,604.8 1471.7,604.8 1475.8,604.8 1479.9,604.8 1484.0,604.9 1488.1,604.9 1492.2,604.9 1496.3,604.9 1500.4,605.0 1504.5,605.0 1508.6,605.0 1512.7,605.1 1516.8,605.1 1520.9,605.1 1525.0,605.1 1529.1,605.2 1533.1,605.2 1537.2,605.2 1541.3,605.3 1545.4,605.3 1549.5,605.3 1553.6,605.3 1557.7,605.4 1561.8,605.4 1565.9,605.4 1570.0,605.5 1574.1,605.5 1578.2,605.5 1582.3,605.5 1586.4,605.5 1590.5,605.5 1594.6,605.5 1598.7,605.6 1602.7,605.6 1606.8,605.6 1610.9,605.6 1615.0,605.6 1619.1,605.6 1623.2,605.6 1627.3,605.6 1631.4,605.6 1635.5,605.6 1639.6,605.7 1643.7,605.7 1647.8,605.7 1651.9,605.7 1656.0,605.7 1660.1,605.7 1664.2,605.7 1668.2,605.7 1672.3,605.7 1676.4,605.7 1680.5,605.8 1684.6,605.8 1688.7,605.8 1692.8,605.8 1696.9,605.8 1701.0,605.8" stroke="#ff00ff" stroke-width="9.4"/><polyline points="67.5,594.7 71.6,594.7 75.7,594.7 79.8,594.8 83.9,594.8 88.0,594.8 92.1,594.8 96.2,594.8 100.3,594.9 104.3,594.9 108.4,594.9 112.5,594.9 116.6,594.9 120.7,595.0 124.8,595.0 128.9,595.0 133.0,595.0 137.1,595.0 141.2,595.1 145.3,595.1 149.4,595.1 153.5,595.1 157.6,595.1 161.7,595.1 165.8,595.2 169.8,595.2 173.9,595.2 178.0,595.2 182.1,595.2 186.2,595.3 190.3,595.3 194.4,595.3 198.5,595.3 202.6,595.3 206.7,595.4 210.8,595.4 214.9,595.4 219.0,595.4 223.1,595.4 227.2,595.5 231.3,595.5 235.4,595.5 239.4,595.5 243.5,595.5 247.6,595.6 251.7,595.6 255.8,595.6 259.9,595.6 264.0,595.6 268.1,595.7 272.2,595.7 276.3,595.7 280.4,595.7 284.5,595.7 288.6,595.8 292.7,595.8 296.8,595.8 300.9,595.8 305.0,595.8 309.0,595.9 313.1,595.9 317.2,595.9 321.3,595.9 325.4,595.9 329.5,595.9 333.6,596.0 337.7,596.0 341.8,596.0 345.9,596.0 350.0,596.1 354.1,596.1 358.2,596.1 362.3,596.2 366.4,596.2 370.5,596.2 374.5,596.2 378.6,596.3 382.7,596.3 386.8,596.3 390.9,596.3 395.0,596.4 399.1,596.4 403.2,596.4 407.3,596.5 411.4,596.5 415.5,596.5 419.6,596.5 423.7,596.6 427.8,596.6 431.9,596.6 436.0,596.6 440.1,596.7 444.1,596.7 448.2,596.7 452.3,596.8 456.4,596.8 460.5,596.8 464.6,596.8 468.7,596.9 472.8,596.9 476.9,596.9 481.0,597.0 485.1,597.0 489.2,597.0 493.3,597.0 497.4,597.1 501.5,597.1 505.6,597.1 509.7,597.1 513.7,597.2 517.8,597.2 521.9,597.2 526.0,597.3 530.1,597.3 534.2,597.3 538.3,597.3 542.4,597.4 546.5,597.4 550.6,597.4 554.7,597.5 558.8,597.5 562.9,597.5 567.0,597.5 571.1,597.6 575.2,597.6 579.2,597.6 583.3,597.6 587.4,597.7 591.5,597.7 595.6,597.7 599.7,597.8 603.8,597.8 607.9,597.8 612.0,597.8 616.1,597.9 620.2,597.9 624.3,597.9 628.4,597.9 632.5,598.0 636.6,598.0 640.7,598.0 644.8,598.1 648.8,598.1 652.9,598.1 657.0,598.1 661.1,598.2 665.2,598.2 669.3,598.2 673.4,598.3 677.5,598.3 681.6,598.3 685.7,598.3 689.8,598.4 693.9,598.4 698.0,598.4 702.1,598.4 706.2,598.5 710.3,598.5 714.3,598.5 718.4,598.6 722.5,598.6 726.6,598.6 730.7,598.6 734.8,598.7 738.9,598.7 743.0,598.7 747.1,598.8 751.2,598.8 755.3,598.8 759.4,598.8 763.5,598.9 767.6,598.9 771.7,598.9 775.8,598.9 779.9,599.0 783.9,599.0 788.0,599.0 792.1,599.1 796.2,599.1 800.3,599.1 804.4,599.2 808.5,599.2 812.6,599.3 816.7,599.3 820.8,599.3 824.9,599.4 829.0,599.4 833.1,599.4 837.2,599.5 841.3,599.5 845.4,599.6 849.5,599.6 853.5,599.6 857.6,599.7 861.7,599.7 865.8,599.7 869.9,599.8 874.0,599.8 878.1,599.9 882.2,599.9 886.3,599.9 890.4,600.0 894.5,600.0 898.6,600.0 902.7,600.1 906.8,600.1 910.9,600.2 915.0,600.2 919.0,600.2 923.1,600.3 927.2,600.3 931.3,600.3 935.4,600.4 939.5,600.4 943.6,600.5 947.7,600.5 951.8,600.5 955.9,600.6 960.0,600.6 964.1,600.6 968.2,600.7 972.3,600.7 976.4,600.8 980.5,600.8 984.6,600.8 988.6,600.9 992.7,600.9 996.8,600.9 1000.9,601.0 1005.0,601.0 1009.1,601.1 1013.2,601.1 1017.3,601.1 1021.4,601.2 1025.5,601.2 1029.6,601.2 1033.7,601.3 1037.8,601.3 1041.9,601.4 1046.0,601.4 1050.1,601.4 1054.2,601.5 1058.2,601.5 1062.3,601.5 1066.4,601.6 1070.5,601.6 1074.6,601.7 1078.7,601.7 1082.8,601.7 1086.9,601.8 1091.0,601.8 1095.1,601.8 1099.2,601.9 1103.3,601.9 1107.4,602.0 1111.5,602.0 1115.6,602.0 1119.7,602.1 1123.7,602.1 1127.8,602.1 1131.9,602.2 1136.0,602.2 1140.1,602.2 1144.2,602.3 1148.3,602.3 1152.4,602.4 1156.5,602.4 1160.6,602.4 1164.7,602.5 1168.8,602.5 1172.9,602.5 1177.0,602.6 1181.1,602.6 1185.2,602.7 1189.3,602.7 1193.3,602.7 1197.4,602.8 1201.5,602.8 1205.6,602.8 1209.7,602.9 1213.8,602.9 1217.9,603.0 1222.0,603.0 1226.1,603.0 1230.2,603.1 1234.3,603.1 1238.4,603.1 1242.5,603.2 1246.6,603.2 1250.7,603.3 1254.8,603.3 1258.8,603.3 1262.9,603.4 1267.0,603.4 1271.1,603.4 1275.2,603.5 1279.3,603.5 1283.4,603.6 1287.5,603.6 1291.6,603.6 1295.7,603.7 1299.8,603.7 1303.9,603.7 1308.0,603.8 1312.1,603.8 1316.2,603.9 1320.3,603.9 1324.4,603.9 1328.4,604.0 1332.5,604.0 1336.6,604.0 1340.7,604.0 1344.8,604.1 1348.9,604.1 1353.0,604.1 1357.1,604.1 1361.2,604.2 1365.3,604.2 1369.4,604.2 1373.5,604.2 1377.6,604.3 1381.7,604.3 1385.8,604.3 1389.9,604.3 1394.0,604.4 1398.0,604.4 1402.1,604.4 1406.2,604.4 1410.3,604.4 1414.4,604.5 1418.5,604.5 1422.6,604.5 1426.7,604.5 1430.8,604.6 1434.9,604.6 1439.0,604.6 1443.1,604.6 1447.2,604.7 1451.3,604.7 1455.4,604.7 1459.5,604.7 1463.5,604.7 1467.6,604.8 1471.7,604.8 1475.8,604.8 1479.9,604.8 1484.0,604.9 1488.1,604.9 1492.2,604.9 1496.3,604.9 1500.4,605.0 1504.5,605.0 1508.6,605.0 1512.7,605.1 1516.8,605.1 1520.9,605.1 1525.0,605.1 1529.1,605.2 1533.1,605.2 1537.2,605.2 1541.3,605.3 1545.4,605.3 1549.5,605.3 1553.6,605.3 1557.7,605.4 1561.8,605.4 1565.9,605.4 1570.0,605.5 1574.1,605.5 1578.2,605.5 1582.3,605.5 1586.4,605.5 1590.5,605.5 1594.6,605.5 1598.7,605.6 1602.7,605.6 1606.8,605.6 1610.9,605.6 1615.0,605.6 1619.1,605.6 1623.2,605.6 1627.3,605.6 1631.4,605.6 1635.5,605.6 1639.6,605.7 1643.7,605.7 1647.8,605.7 1651.9,605.7 1656.0,605.7 1660.1,605.7 1664.2,605.7 1668.2,605.7 1672.3,605.7 1676.4,605.7 1680.5,605.8 1684.6,605.8 1688.7,605.8 1692.8,605.8 1696.9,605.8 1701.0,605.8" stroke="#ff00ff" stroke-width="6.4" shape-rendering="geometricPrecision"/>
<polyline points="67.5,594.7 71.6,594.7 75.7,594.7 79.8,594.8 83.9,594.8 88.0,594.8 92.1,594.8 96.2,594.8 100.3,594.9 104.3,594.9 108.4,594.9 112.5,594.9 116.6,594.9 120.7,594.9 124.8,595.0 128.9,595.0 133.0,595.0 137.1,595.0 141.2,595.0 145.3,595.1 149.4,595.1 153.5,595.1 157.6,595.1 161.7,595.1 165.8,595.1 169.8,595.1 173.9,595.2 178.0,595.2 182.1,595.2 186.2,595.2 190.3,595.2 194.4,595.2 198.5,595.2 202.6,595.2 206.7,595.2 210.8,595.2 214.9,595.2 219.0,595.2 223.1,595.2 227.2,595.2 231.3,595.2 235.4,595.1 239.4,595.1 243.5,595.1 247.6,595.0 251.7,595.0 255.8,594.9 259.9,594.9 264.0,594.8 268.1,594.7 272.2,594.6 276.3,594.5 280.4,594.4 284.5,594.3 288.6,594.1 292.7,593.9 296.8,593.8 300.9,593.6 305.0,593.3 309.0,593.1 313.1,592.8 317.2,592.5 321.3,592.1 325.4,591.7 329.5,591.3 333.6,590.9 337.7,590.4 341.8,589.8 345.9,589.2 350.0,588.6 354.1,587.9 358.2,587.1 362.3,586.3 366.4,585.4 370.5,584.4 374.5,583.3 378.6,582.1 382.7,580.9 386.8,579.6 390.9,578.1 395.0,576.6 399.1,574.9 403.2,573.1 407.3,571.2 411.4,569.1 415.5,567.0 419.6,564.6 423.7,562.1 427.8,559.5 431.9,556.7 436.0,553.7 440.1,550.6 444.1,547.2 448.2,543.7 452.3,540.0 456.4,536.1 460.5,532.0 464.6,527.7 468.7,523.2 472.8,518.4 476.9,513.5 481.0,508.4 485.1,503.0 489.2,497.5 493.3,491.8 497.4,485.8 501.5,479.7 505.6,473.4 509.7,466.9 513.7,460.3 517.8,453.5 521.9,446.5 526.0,439.5 530.1,432.3 534.2,425.0 538.3,417.7 542.4,410.3 546.5,402.9 550.6,395.5 554.7,388.1 558.8,380.7 562.9,373.5 567.0,366.3 571.1,359.3 575.2,352.4 579.2,345.8 583.3,339.4 587.4,333.2 591.5,327.3 595.6,321.7 599.7,316.5 603.8,311.7 607.9,307.2 612.0,303.2 616.1,299.7 620.2,296.6 624.3,293.9 628.4,291.8 632.5,290.2 636.6,289.2 640.7,288.6 644.8,288.6 648.8,289.1 652.9,290.1 657.0,291.6 661.1,293.7 665.2,296.2 669.3,299.1 673.4,302.5 677.5,306.4 681.6,310.7 685.7,315.3 689.8,320.4 693.9,325.8 698.0,331.5 702.1,337.5 706.2,343.7 710.3,350.2 714.3,356.9 718.4,363.7 722.5,370.7 726.6,377.8 730.7,385.1 734.8,392.3 738.9,399.6 743.0,407.0 747.1,414.3 751.2,421.5 755.3,428.8 759.4,435.9 763.5,443.0 767.6,449.9 771.7,456.7 775.8,463.4 779.9,469.9 783.9,476.3 788.0,482.5 792.1,488.5 796.2,494.4 800.3,500.0 804.4,505.5 808.5,510.8 812.6,515.8 816.7,520.7 820.8,525.4 824.9,529.8 829.0,534.1 833.1,538.1 837.2,542.0 841.3,545.7 845.4,549.2 849.5,552.5 853.5,555.6 857.6,558.5 861.7,561.3 865.8,563.9 869.9,566.4 874.0,568.6 878.1,570.8 882.2,572.8 886.3,574.6 890.4,576.3 894.5,577.9 898.6,579.3 902.7,580.7 906.8,581.9 910.9,582.9 915.0,583.9 919.0,584.8 923.1,585.5 927.2,586.1 931.3,586.7 935.4,587.1 939.5,587.5 943.6,587.7 947.7,587.8 951.8,587.9 955.9,587.8 960.0,587.7 964.1,587.4 968.2,587.1 972.3,586.6 976.4,586.1 980.5,585.4 984.6,584.7 988.6,583.8 992.7,582.8 996.8,581.7 1000.9,580.5 1005.0,579.2 1009.1,577.7 1013.2,576.1 1017.3,574.3 1021.4,572.4 1025.5,570.4 1029.6,568.2 1033.7,565.9 1037.8,563.3 1041.9,560.6 1046.0,557.8 1050.1,554.7 1054.2,551.4 1058.2,548.0 1062.3,544.3 1066.4,540.5 1070.5,536.4 1074.6,532.1 1078.7,527.5 1082.8,522.8 1086.9,517.7 1091.0,512.5 1095.1,507.0 1099.2,501.3 1103.3,495.3 1107.4,489.0 1111.5,482.5 1115.6,475.7 1119.7,468.7 1123.7,461.5 1127.8,454.0 1131.9,446.2 1136.0,438.2 1140.1,430.0 1144.2,421.6 1148.3,412.9 1152.4,404.1 1156.5,395.0 1160.6,385.8 1164.7,376.5 1168.8,367.0 1172.9,357.4 1177.0,347.7 1181.1,337.9 1185.2,328.1 1189.3,318.3 1193.3,308.5 1197.4,298.7 1201.5,289.0 1205.6,279.4 1209.7,269.9 1213.8,260.6 1217.9,251.5 1222.0,242.7 1226.1,234.1 1230.2,225.8 1234.3,217.9 1238.4,210.3 1242.5,203.1 1246.6,196.4 1250.7,190.1 1254.8,184.4 1258.8,179.1 1262.9,174.5 1267.0,170.3 1271.1,166.8 1275.2,163.9 1279.3,161.6 1283.4,160.0 1287.5,159.0 1291.6,158.6 1295.7,158.9 1299.8,159.9 1303.9,161.5 1308.0,163.7 1312.1,166.6 1316.2,170.1 1320.3,174.1 1324.4,178.8 1328.4,184.0 1332.5,189.7 1336.6,195.9 1340.7,202.6 1344.8,209.8 1348.9,217.3 1353.0,225.3 1357.1,233.5 1361.2,242.1 1365.3,251.0 1369.4,260.1 1373.5,269.5 1377.6,279.0 1381.7,288.6 1385.8,298.3 1389.9,308.2 1394.0,318.0 1398.0,327.9 1402.1,337.8 1406.2,347.6 1410.3,357.4 1414.4,367.1 1418.5,376.7 1422.6,386.1 1426.7,395.4 1430.8,404.5 1434.9,413.5 1439.0,422.2 1443.1,430.8 1447.2,439.1 1451.3,447.2 1455.4,455.1 1459.5,462.7 1463.5,470.1 1467.6,477.2 1471.7,484.1 1475.8,490.7 1479.9,497.1 1484.0,503.2 1488.1,509.1 1492.2,514.7 1496.3,520.1 1500.4,525.2 1504.5,530.1 1508.6,534.8 1512.7,539.2 1516.8,543.5 1520.9,547.5 1525.0,551.3 1529.1,554.9 1533.1,558.3 1537.2,561.5 1541.3,564.6 1545.4,567.4 1549.5,570.1 1553.6,572.7 1557.7,575.1 1561.8,577.3 1565.9,579.4 1570.0,581.4 1574.1,583.2 1578.2,585.0 1582.3,586.5 1586.4,588.0 1590.5,589.4 1594.6,590.7 1598.7,591.9 1602.7,593.0 1606.8,594.1 1610.9,595.0 1615.0,595.9 1619.1,596.7 1623.2,597.5 1627.3,598.2 1631.4,598.9 1635.5,599.5 1639.6,600.0 1643.7,600.5 1647.8,601.0 1651.9,601.4 1656.0,601.8 1660.1,602.2 1664.2,602.5 1668.2,602.8 1672.3,603.1 1676.4,603.4 1680.5,603.6 1684.6,603.8 1688.7,604.0 1692.8,604.2 1696.9,604.4 1701.0,604.5" stroke="#008000" stroke-width="10"/><polyline points="67.5,594.7 71.6,594.7 75.7,594.7 79.8,594.8 83.9,594.8 88.0,594.8 92.1,594.8 96.2,594.8 100.3,594.9 104.3,594.9 108.4,594.9 112.5,594.9 116.6,594.9 120.7,594.9 124.8,595.0 128.9,595.0 133.0,595.0 137.1,595.0 141.2,595.0 145.3,595.1 149.4,595.1 153.5,595.1 157.6,595.1 161.7,595.1 165.8,595.1 169.8,595.1 173.9,595.2 178.0,595.2 182.1,595.2 186.2,595.2 190.3,595.2 194.4,595.2 198.5,595.2 202.6,595.2 206.7,595.2 210.8,595.2 214.9,595.2 219.0,595.2 223.1,595.2 227.2,595.2 231.3,595.2 235.4,595.1 239.4,595.1 243.5,595.1 247.6,595.0 251.7,595.0 255.8,594.9 259.9,594.9 264.0,594.8 268.1,594.7 272.2,594.6 276.3,594.5 280.4,594.4 284.5,594.3 288.6,594.1 292.7,593.9 296.8,593.8 300.9,593.6 305.0,593.3 309.0,593.1 313.1,592.8 317.2,592.5 321.3,592.1 325.4,591.7 329.5,591.3 333.6,590.9 337.7,590.4 341.8,589.8 345.9,589.2 350.0,588.6 354.1,587.9 358.2,587.1 362.3,586.3 366.4,585.4 370.5,584.4 374.5,583.3 378.6,582.1 382.7,580.9 386.8,579.6 390.9,578.1 395.0,576.6 399.1,574.9 403.2,573.1 407.3,571.2 411.4,569.1 415.5,567.0 419.6,564.6 423.7,562.1 427.8,559.5 431.9,556.7 436.0,553.7 440.1,550.6 444.1,547.2 448.2,543.7 452.3,540.0 456.4,536.1 460.5,532.0 464.6,527.7 468.7,523.2 472.8,518.4 476.9,513.5 481.0,508.4 485.1,503.0 489.2,497.5 493.3,491.8 497.4,485.8 501.5,479.7 505.6,473.4 509.7,466.9 513.7,460.3 517.8,453.5 521.9,446.5 526.0,439.5 530.1,432.3 534.2,425.0 538.3,417.7 542.4,410.3 546.5,402.9 550.6,395.5 554.7,388.1 558.8,380.7 562.9,373.5 567.0,366.3 571.1,359.3 575.2,352.4 579.2,345.8 583.3,339.4 587.4,333.2 591.5,327.3 595.6,321.7 599.7,316.5 603.8,311.7 607.9,307.2 612.0,303.2 616.1,299.7 620.2,296.6 624.3,293.9 628.4,291.8 632.5,290.2 636.6,289.2 640.7,288.6 644.8,288.6 648.8,289.1 652.9,290.1 657.0,291.6 661.1,293.7 665.2,296.2 669.3,299.1 673.4,302.5 677.5,306.4 681.6,310.7 685.7,315.3 689.8,320.4 693.9,325.8 698.0,331.5 702.1,337.5 706.2,343.7 710.3,350.2 714.3,356.9 718.4,363.7 722.5,370.7 726.6,377.8 730.7,385.1 734.8,392.3 738.9,399.6 743.0,407.0 747.1,414.3 751.2,421.5 755.3,428.8 759.4,435.9 763.5,443.0 767.6,449.9 771.7,456.7 775.8,463.4 779.9,469.9 783.9,476.3 788.0,482.5 792.1,488.5 796.2,494.4 800.3,500.0 804.4,505.5 808.5,510.8 812.6,515.8 816.7,520.7 820.8,525.4 824.9,529.8 829.0,534.1 833.1,538.1 837.2,542.0 841.3,545.7 845.4,549.2 849.5,552.5 853.5,555.6 857.6,558.5 861.7,561.3 865.8,563.9 869.9,566.4 874.0,568.6 878.1,570.8 882.2,572.8 886.3,574.6 890.4,576.3 894.5,577.9 898.6,579.3 902.7,580.7 906.8,581.9 910.9,582.9 915.0,583.9 919.0,584.8 923.1,585.5 927.2,586.1 931.3,586.7 935.4,587.1 939.5,587.5 943.6,587.7 947.7,587.8 951.8,587.9 955.9,587.8 960.0,587.7 964.1,587.4 968.2,587.1 972.3,586.6 976.4,586.1 980.5,585.4 984.6,584.7 988.6,583.8 992.7,582.8 996.8,581.7 1000.9,580.5 1005.0,579.2 1009.1,577.7 1013.2,576.1 1017.3,574.3 1021.4,572.4 1025.5,570.4 1029.6,568.2 1033.7,565.9 1037.8,563.3 1041.9,560.6 1046.0,557.8 1050.1,554.7 1054.2,551.4 1058.2,548.0 1062.3,544.3 1066.4,540.5 1070.5,536.4 1074.6,532.1 1078.7,527.5 1082.8,522.8 1086.9,517.7 1091.0,512.5 1095.1,507.0 1099.2,501.3 1103.3,495.3 1107.4,489.0 1111.5,482.5 1115.6,475.7 1119.7,468.7 1123.7,461.5 1127.8,454.0 1131.9,446.2 1136.0,438.2 1140.1,430.0 1144.2,421.6 1148.3,412.9 1152.4,404.1 1156.5,395.0 1160.6,385.8 1164.7,376.5 1168.8,367.0 1172.9,357.4 1177.0,347.7 1181.1,337.9 1185.2,328.1 1189.3,318.3 1193.3,308.5 1197.4,298.7 1201.5,289.0 1205.6,279.4 1209.7,269.9 1213.8,260.6 1217.9,251.5 1222.0,242.7 1226.1,234.1 1230.2,225.8 1234.3,217.9 1238.4,210.3 1242.5,203.1 1246.6,196.4 1250.7,190.1 1254.8,184.4 1258.8,179.1 1262.9,174.5 1267.0,170.3 1271.1,166.8 1275.2,163.9 1279.3,161.6 1283.4,160.0 1287.5,159.0 1291.6,158.6 1295.7,158.9 1299.8,159.9 1303.9,161.5 1308.0,163.7 1312.1,166.6 1316.2,170.1 1320.3,174.1 1324.4,178.8 1328.4,184.0 1332.5,189.7 1336.6,195.9 1340.7,202.6 1344.8,209.8 1348.9,217.3 1353.0,225.3 1357.1,233.5 1361.2,242.1 1365.3,251.0 1369.4,260.1 1373.5,269.5 1377.6,279.0 1381.7,288.6 1385.8,298.3 1389.9,308.2 1394.0,318.0 1398.0,327.9 1402.1,337.8 1406.2,347.6 1410.3,357.4 1414.4,367.1 1418.5,376.7 1422.6,386.1 1426.7,395.4 1430.8,404.5 1434.9,413.5 1439.0,422.2 1443.1,430.8 1447.2,439.1 1451.3,447.2 1455.4,455.1 1459.5,462.7 1463.5,470.1 1467.6,477.2 1471.7,484.1 1475.8,490.7 1479.9,497.1 1484.0,503.2 1488.1,509.1 1492.2,514.7 1496.3,520.1 1500.4,525.2 1504.5,530.1 1508.6,534.8 1512.7,539.2 1516.8,543.5 1520.9,547.5 1525.0,551.3 1529.1,554.9 1533.1,558.3 1537.2,561.5 1541.3,564.6 1545.4,567.4 1549.5,570.1 1553.6,572.7 1557.7,575.1 1561.8,577.3 1565.9,579.4 1570.0,581.4 1574.1,583.2 1578.2,585.0 1582.3,586.5 1586.4,588.0 1590.5,589.4 1594.6,590.7 1598.7,591.9 1602.7,593.0 1606.8,594.1 1610.9,595.0 1615.0,595.9 1619.1,596.7 1623.2,597.5 1627.3,598.2 1631.4,598.9 1635.5,599.5 1639.6,600.0 1643.7,600.5 1647.8,601.0 1651.9,601.4 1656.0,601.8 1660.1,602.2 1664.2,602.5 1668.2,602.8 1672.3,603.1 1676.4,603.4 1680.5,603.6 1684.6,603.8 1688.7,604.0 1692.8,604.2 1696.9,604.4 1701.0,604.5" stroke="#008000" stroke-width="7" shape-rendering="geometricPrecision"/>
</g>
<g fill="none" stroke-width="9.4" stroke-linejoin="round" stroke-linecap="round" shape-rendering="crispEdges" clip-path="url(#cb)">
<polyline points="66.0,1262.0 76.2,1301.2 86.4,1275.0 96.6,1255.0 106.8,1173.8 117.0,1195.0 127.3,1243.0 137.5,1228.0 147.7,1238.8 157.9,1288.0 168.1,1220.0 178.3,1362.5 188.5,1282.5 198.7,1222.5 208.9,1189.5 219.1,1269.5 229.3,1224.2 239.6,1243.0 249.8,1220.5 260.0,1277.0 270.2,1247.5 280.4,1212.5 290.6,1217.5 300.8,1258.8 311.0,1162.5 321.2,1308.8 331.4,1234.5 341.7,1282.0 351.9,1152.5 362.1,1123.8 372.3,1257.5 382.5,1225.0 392.7,1117.5 402.9,1150.0 413.1,1175.0 423.3,1172.5 433.5,1199.2 443.7,1192.5 454.0,1135.0 464.2,1205.0 474.4,1190.0 484.6,1167.5 494.8,1232.5 505.0,1173.0 515.2,1218.8 525.4,1141.2 535.6,1167.5 545.8,1188.0 556.0,1092.5 566.3,1068.8 576.5,1149.5 586.7,1110.0 596.9,1075.8 607.1,1142.5 617.3,1114.2 627.5,1119.5 637.7,1085.0 647.9,1041.2 658.1,1069.5 668.4,1035.0 678.6,998.0 688.8,1027.5 699.0,882.5 709.2,1035.0 719.4,1072.5 729.6,1196.2 739.8,1010.0 750.0,883.0 760.2,1091.2 770.4,1070.5 780.7,1215.0 790.9,1252.5 801.1,1103.0 811.3,1292.5 821.5,1275.0 831.7,1195.0 841.9,1150.0 852.1,1128.0 862.3,1315.5 872.5,1137.0 882.8,1212.5 893.0,1250.0 903.2,1268.0 913.4,1222.5 923.6,1200.0 933.8,1285.5 944.0,1196.2 954.2,1210.0 964.4,1084.5 974.6,1110.0 984.8,1122.5 995.1,1217.5 1005.3,1246.2 1015.5,1192.5 1025.7,1225.5 1035.9,1142.0 1046.1,1163.0 1056.3,1139.2 1066.5,1155.0 1076.7,1122.0 1086.9,1170.0 1097.1,1174.5 1107.4,1108.0 1117.6,1183.0 1127.8,1170.0 1138.0,1215.5 1148.2,1070.5 1158.4,1175.5 1168.6,1070.0 1178.8,968.8 1189.0,985.0 1199.2,1068.8 1209.5,917.5 1219.7,1128.0 1229.9,1095.0 1240.1,935.5 1250.3,972.5 1260.5,972.5 1270.7,880.0 1280.9,807.0 1291.1,813.8 1301.3,786.2 1311.5,945.0 1321.8,997.0 1332.0,844.5 1342.2,887.5 1352.4,1030.0 1362.6,1072.5 1372.8,1035.5 1383.0,1060.0 1393.2,990.0 1403.4,1049.5 1413.6,953.8 1423.8,1102.5 1434.1,1047.5 1444.3,977.5 1454.5,1027.5 1464.7,1085.0 1474.9,1202.5 1485.1,1250.0 1495.3,1200.0 1505.5,1107.5 1515.7,1212.5 1525.9,1241.2 1536.2,1190.0 1546.4,1085.0 1556.6,1130.0 1566.8,1192.5 1577.0,1177.5 1587.2,1116.8 1597.4,1187.5 1607.6,1086.2 1617.8,1150.0 1628.0,1172.5 1638.2,1277.5 1648.5,1252.5 1658.7,1264.5 1668.9,1227.5 1679.1,1225.0 1689.3,1167.5 1699.5,1150.0" stroke="#000" stroke-width="10"/><polyline points="66.0,1262.0 76.2,1301.2 86.4,1275.0 96.6,1255.0 106.8,1173.8 117.0,1195.0 127.3,1243.0 137.5,1228.0 147.7,1238.8 157.9,1288.0 168.1,1220.0 178.3,1362.5 188.5,1282.5 198.7,1222.5 208.9,1189.5 219.1,1269.5 229.3,1224.2 239.6,1243.0 249.8,1220.5 260.0,1277.0 270.2,1247.5 280.4,1212.5 290.6,1217.5 300.8,1258.8 311.0,1162.5 321.2,1308.8 331.4,1234.5 341.7,1282.0 351.9,1152.5 362.1,1123.8 372.3,1257.5 382.5,1225.0 392.7,1117.5 402.9,1150.0 413.1,1175.0 423.3,1172.5 433.5,1199.2 443.7,1192.5 454.0,1135.0 464.2,1205.0 474.4,1190.0 484.6,1167.5 494.8,1232.5 505.0,1173.0 515.2,1218.8 525.4,1141.2 535.6,1167.5 545.8,1188.0 556.0,1092.5 566.3,1068.8 576.5,1149.5 586.7,1110.0 596.9,1075.8 607.1,1142.5 617.3,1114.2 627.5,1119.5 637.7,1085.0 647.9,1041.2 658.1,1069.5 668.4,1035.0 678.6,998.0 688.8,1027.5 699.0,882.5 709.2,1035.0 719.4,1072.5 729.6,1196.2 739.8,1010.0 750.0,883.0 760.2,1091.2 770.4,1070.5 780.7,1215.0 790.9,1252.5 801.1,1103.0 811.3,1292.5 821.5,1275.0 831.7,1195.0 841.9,1150.0 852.1,1128.0 862.3,1315.5 872.5,1137.0 882.8,1212.5 893.0,1250.0 903.2,1268.0 913.4,1222.5 923.6,1200.0 933.8,1285.5 944.0,1196.2 954.2,1210.0 964.4,1084.5 974.6,1110.0 984.8,1122.5 995.1,1217.5 1005.3,1246.2 1015.5,1192.5 1025.7,1225.5 1035.9,1142.0 1046.1,1163.0 1056.3,1139.2 1066.5,1155.0 1076.7,1122.0 1086.9,1170.0 1097.1,1174.5 1107.4,1108.0 1117.6,1183.0 1127.8,1170.0 1138.0,1215.5 1148.2,1070.5 1158.4,1175.5 1168.6,1070.0 1178.8,968.8 1189.0,985.0 1199.2,1068.8 1209.5,917.5 1219.7,1128.0 1229.9,1095.0 1240.1,935.5 1250.3,972.5 1260.5,972.5 1270.7,880.0 1280.9,807.0 1291.1,813.8 1301.3,786.2 1311.5,945.0 1321.8,997.0 1332.0,844.5 1342.2,887.5 1352.4,1030.0 1362.6,1072.5 1372.8,1035.5 1383.0,1060.0 1393.2,990.0 1403.4,1049.5 1413.6,953.8 1423.8,1102.5 1434.1,1047.5 1444.3,977.5 1454.5,1027.5 1464.7,1085.0 1474.9,1202.5 1485.1,1250.0 1495.3,1200.0 1505.5,1107.5 1515.7,1212.5 1525.9,1241.2 1536.2,1190.0 1546.4,1085.0 1556.6,1130.0 1566.8,1192.5 1577.0,1177.5 1587.2,1116.8 1597.4,1187.5 1607.6,1086.2 1617.8,1150.0 1628.0,1172.5 1638.2,1277.5 1648.5,1252.5 1658.7,1264.5 1668.9,1227.5 1679.1,1225.0 1689.3,1167.5 1699.5,1150.0" stroke="#000" stroke-width="7" shape-rendering="geometricPrecision"/>
<polyline points="66.0,1250.0 70.1,1250.0 74.2,1250.0 78.3,1250.0 82.4,1250.0 86.5,1250.0 90.6,1250.1 94.7,1250.1 98.8,1250.1 102.8,1250.1 106.9,1250.1 111.0,1250.1 115.1,1250.1 119.2,1250.1 123.3,1250.1 127.4,1250.1 131.5,1250.1 135.6,1250.1 139.7,1250.2 143.8,1250.2 147.9,1250.2 152.0,1250.2 156.1,1250.2 160.2,1250.2 164.3,1250.2 168.3,1250.2 172.4,1250.2 176.5,1250.2 180.6,1250.2 184.7,1250.3 188.8,1250.3 192.9,1250.3 197.0,1250.3 201.1,1250.3 205.2,1250.3 209.3,1250.3 213.4,1250.3 217.5,1250.3 221.6,1250.3 225.7,1250.3 229.8,1250.3 233.9,1250.4 237.9,1250.4 242.0,1250.4 246.1,1250.4 250.2,1250.4 254.3,1250.4 258.4,1250.4 262.5,1250.4 266.6,1250.4 270.7,1250.4 274.8,1250.4 278.9,1250.5 283.0,1250.5 287.1,1250.5 291.2,1250.5 295.3,1250.5 299.4,1250.5 303.5,1250.5 307.5,1250.6 311.6,1250.6 315.7,1250.6 319.8,1250.6 323.9,1250.7 328.0,1250.7 332.1,1250.7 336.2,1250.8 340.3,1250.8 344.4,1250.8 348.5,1250.9 352.6,1250.9 356.7,1250.9 360.8,1251.0 364.9,1251.0 369.0,1251.0 373.0,1251.0 377.1,1251.1 381.2,1251.1 385.3,1251.1 389.4,1251.2 393.5,1251.2 397.6,1251.2 401.7,1251.3 405.8,1251.3 409.9,1251.3 414.0,1251.4 418.1,1251.4 422.2,1251.4 426.3,1251.4 430.4,1251.5 434.5,1251.5 438.6,1251.5 442.6,1251.6 446.7,1251.6 450.8,1251.6 454.9,1251.7 459.0,1251.7 463.1,1251.7 467.2,1251.8 471.3,1251.8 475.4,1251.8 479.5,1251.8 483.6,1251.9 487.7,1251.9 491.8,1251.9 495.9,1252.0 500.0,1252.0 504.1,1252.1 508.2,1252.2 512.2,1252.2 516.3,1252.3 520.4,1252.4 524.5,1252.5 528.6,1252.6 532.7,1252.6 536.8,1252.7 540.9,1252.8 545.0,1252.9 549.1,1253.0 553.2,1253.0 557.3,1253.1 561.4,1253.2 565.5,1253.3 569.6,1253.4 573.7,1253.4 577.7,1253.5 581.8,1253.6 585.9,1253.7 590.0,1253.7 594.1,1253.8 598.2,1253.9 602.3,1254.0 606.4,1254.0 610.5,1254.1 614.6,1254.2 618.7,1254.3 622.8,1254.3 626.9,1254.4 631.0,1254.5 635.1,1254.5 639.2,1254.6 643.3,1254.7 647.3,1254.7 651.4,1254.8 655.5,1254.9 659.6,1254.9 663.7,1255.0 667.8,1255.1 671.9,1255.1 676.0,1255.2 680.1,1255.2 684.2,1255.3 688.3,1255.3 692.4,1255.4 696.5,1255.4 700.6,1255.5 704.7,1255.5 708.8,1255.5 712.8,1255.5 716.9,1255.5 721.0,1255.5 725.1,1255.5 729.2,1255.5 733.3,1255.5 737.4,1255.5 741.5,1255.4 745.6,1255.4 749.7,1255.4 753.8,1255.3 757.9,1255.3 762.0,1255.2 766.1,1255.2 770.2,1255.1 774.3,1255.0 778.4,1254.9 782.4,1254.8 786.5,1254.7 790.6,1254.6 794.7,1254.5 798.8,1254.4 802.9,1254.2 807.0,1254.1 811.1,1253.9 815.2,1253.7 819.3,1253.5 823.4,1253.3 827.5,1253.0 831.6,1252.8 835.7,1252.5 839.8,1252.2 843.9,1251.9 848.0,1251.6 852.0,1251.3 856.1,1250.9 860.2,1250.5 864.3,1250.1 868.4,1249.6 872.5,1249.2 876.6,1248.7 880.7,1248.1 884.8,1247.6 888.9,1247.0 893.0,1246.4 897.1,1245.7 901.2,1245.0 905.3,1244.3 909.4,1243.5 913.5,1242.7 917.5,1241.9 921.6,1241.0 925.7,1240.0 929.8,1239.1 933.9,1238.0 938.0,1237.0 942.1,1235.8 946.2,1234.7 950.3,1233.4 954.4,1232.1 958.5,1230.8 962.6,1229.4 966.7,1227.9 970.8,1226.4 974.9,1224.8 979.0,1223.2 983.1,1221.5 987.1,1219.7 991.2,1217.8 995.3,1215.9 999.4,1213.9 1003.5,1211.8 1007.6,1209.7 1011.7,1207.5 1015.8,1205.2 1019.9,1202.8 1024.0,1200.4 1028.1,1197.8 1032.2,1195.2 1036.3,1192.5 1040.4,1189.8 1044.5,1186.9 1048.6,1184.0 1052.7,1181.0 1056.7,1177.9 1060.8,1174.7 1064.9,1171.4 1069.0,1168.1 1073.1,1164.7 1077.2,1161.2 1081.3,1157.6 1085.4,1153.9 1089.5,1150.2 1093.6,1146.4 1097.7,1142.5 1101.8,1138.5 1105.9,1134.5 1110.0,1130.5 1114.1,1126.3 1118.2,1122.1 1122.2,1117.9 1126.3,1113.6 1130.4,1109.2 1134.5,1104.9 1138.6,1100.5 1142.7,1096.0 1146.8,1091.6 1150.9,1087.2 1155.0,1082.8 1159.1,1078.3 1163.2,1073.9 1167.3,1069.5 1171.4,1065.1 1175.5,1060.7 1179.6,1056.3 1183.7,1051.9 1187.8,1047.6 1191.8,1043.4 1195.9,1039.2 1200.0,1035.0 1204.1,1030.9 1208.2,1026.9 1212.3,1023.0 1216.4,1019.2 1220.5,1015.5 1224.6,1011.8 1228.7,1008.3 1232.8,1004.9 1236.9,1001.7 1241.0,998.6 1245.1,995.6 1249.2,992.8 1253.3,990.1 1257.3,987.6 1261.4,985.3 1265.5,983.1 1269.6,981.1 1273.7,979.4 1277.8,977.8 1281.9,976.4 1286.0,975.2 1290.1,974.2 1294.2,973.4 1298.3,972.8 1302.4,972.4 1306.5,972.2 1310.6,972.3 1314.7,972.5 1318.8,973.0 1322.9,973.6 1326.9,974.5 1331.0,975.5 1335.1,976.8 1339.2,978.2 1343.3,979.9 1347.4,981.7 1351.5,983.7 1355.6,985.9 1359.7,988.2 1363.8,990.8 1367.9,993.5 1372.0,996.3 1376.1,999.4 1380.2,1002.5 1384.3,1005.8 1388.4,1009.3 1392.5,1012.9 1396.5,1016.5 1400.6,1020.3 1404.7,1024.3 1408.8,1028.3 1412.9,1032.4 1417.0,1036.6 1421.1,1040.8 1425.2,1045.1 1429.3,1049.5 1433.4,1054.0 1437.5,1058.5 1441.6,1063.0 1445.7,1067.6 1449.8,1072.2 1453.9,1076.8 1458.0,1081.4 1462.0,1086.0 1466.1,1090.7 1470.2,1095.3 1474.3,1099.9 1478.4,1104.5 1482.5,1109.1 1486.6,1113.6 1490.7,1118.1 1494.8,1122.6 1498.9,1127.1 1503.0,1131.5 1507.1,1135.7 1511.2,1140.0 1515.3,1144.1 1519.4,1148.2 1523.5,1152.3 1527.6,1156.3 1531.6,1160.2 1535.7,1164.0 1539.8,1167.8 1543.9,1171.5 1548.0,1175.1 1552.1,1178.7 1556.2,1182.2 1560.3,1185.6 1564.4,1188.9 1568.5,1192.1 1572.6,1195.3 1576.7,1198.4 1580.8,1201.4 1584.9,1204.3 1589.0,1207.1 1593.1,1209.9 1597.2,1212.6 1601.2,1215.2 1605.3,1217.7 1609.4,1220.2 1613.5,1222.6 1617.6,1224.9 1621.7,1227.1 1625.8,1229.3 1629.9,1231.4 1634.0,1233.4 1638.1,1235.4 1642.2,1237.3 1646.3,1239.1 1650.4,1240.8 1654.5,1242.5 1658.6,1244.2 1662.7,1245.7 1666.7,1247.3 1670.8,1248.7 1674.9,1250.1 1679.0,1251.5 1683.1,1252.8 1687.2,1254.0 1691.3,1255.2 1695.4,1256.4 1699.5,1257.5" stroke="#ff0000" stroke-width="9"/><polyline points="66.0,1250.0 70.1,1250.0 74.2,1250.0 78.3,1250.0 82.4,1250.0 86.5,1250.0 90.6,1250.1 94.7,1250.1 98.8,1250.1 102.8,1250.1 106.9,1250.1 111.0,1250.1 115.1,1250.1 119.2,1250.1 123.3,1250.1 127.4,1250.1 131.5,1250.1 135.6,1250.1 139.7,1250.2 143.8,1250.2 147.9,1250.2 152.0,1250.2 156.1,1250.2 160.2,1250.2 164.3,1250.2 168.3,1250.2 172.4,1250.2 176.5,1250.2 180.6,1250.2 184.7,1250.3 188.8,1250.3 192.9,1250.3 197.0,1250.3 201.1,1250.3 205.2,1250.3 209.3,1250.3 213.4,1250.3 217.5,1250.3 221.6,1250.3 225.7,1250.3 229.8,1250.3 233.9,1250.4 237.9,1250.4 242.0,1250.4 246.1,1250.4 250.2,1250.4 254.3,1250.4 258.4,1250.4 262.5,1250.4 266.6,1250.4 270.7,1250.4 274.8,1250.4 278.9,1250.5 283.0,1250.5 287.1,1250.5 291.2,1250.5 295.3,1250.5 299.4,1250.5 303.5,1250.5 307.5,1250.6 311.6,1250.6 315.7,1250.6 319.8,1250.6 323.9,1250.7 328.0,1250.7 332.1,1250.7 336.2,1250.8 340.3,1250.8 344.4,1250.8 348.5,1250.9 352.6,1250.9 356.7,1250.9 360.8,1251.0 364.9,1251.0 369.0,1251.0 373.0,1251.0 377.1,1251.1 381.2,1251.1 385.3,1251.1 389.4,1251.2 393.5,1251.2 397.6,1251.2 401.7,1251.3 405.8,1251.3 409.9,1251.3 414.0,1251.4 418.1,1251.4 422.2,1251.4 426.3,1251.4 430.4,1251.5 434.5,1251.5 438.6,1251.5 442.6,1251.6 446.7,1251.6 450.8,1251.6 454.9,1251.7 459.0,1251.7 463.1,1251.7 467.2,1251.8 471.3,1251.8 475.4,1251.8 479.5,1251.8 483.6,1251.9 487.7,1251.9 491.8,1251.9 495.9,1252.0 500.0,1252.0 504.1,1252.1 508.2,1252.2 512.2,1252.2 516.3,1252.3 520.4,1252.4 524.5,1252.5 528.6,1252.6 532.7,1252.6 536.8,1252.7 540.9,1252.8 545.0,1252.9 549.1,1253.0 553.2,1253.0 557.3,1253.1 561.4,1253.2 565.5,1253.3 569.6,1253.4 573.7,1253.4 577.7,1253.5 581.8,1253.6 585.9,1253.7 590.0,1253.7 594.1,1253.8 598.2,1253.9 602.3,1254.0 606.4,1254.0 610.5,1254.1 614.6,1254.2 618.7,1254.3 622.8,1254.3 626.9,1254.4 631.0,1254.5 635.1,1254.5 639.2,1254.6 643.3,1254.7 647.3,1254.7 651.4,1254.8 655.5,1254.9 659.6,1254.9 663.7,1255.0 667.8,1255.1 671.9,1255.1 676.0,1255.2 680.1,1255.2 684.2,1255.3 688.3,1255.3 692.4,1255.4 696.5,1255.4 700.6,1255.5 704.7,1255.5 708.8,1255.5 712.8,1255.5 716.9,1255.5 721.0,1255.5 725.1,1255.5 729.2,1255.5 733.3,1255.5 737.4,1255.5 741.5,1255.4 745.6,1255.4 749.7,1255.4 753.8,1255.3 757.9,1255.3 762.0,1255.2 766.1,1255.2 770.2,1255.1 774.3,1255.0 778.4,1254.9 782.4,1254.8 786.5,1254.7 790.6,1254.6 794.7,1254.5 798.8,1254.4 802.9,1254.2 807.0,1254.1 811.1,1253.9 815.2,1253.7 819.3,1253.5 823.4,1253.3 827.5,1253.0 831.6,1252.8 835.7,1252.5 839.8,1252.2 843.9,1251.9 848.0,1251.6 852.0,1251.3 856.1,1250.9 860.2,1250.5 864.3,1250.1 868.4,1249.6 872.5,1249.2 876.6,1248.7 880.7,1248.1 884.8,1247.6 888.9,1247.0 893.0,1246.4 897.1,1245.7 901.2,1245.0 905.3,1244.3 909.4,1243.5 913.5,1242.7 917.5,1241.9 921.6,1241.0 925.7,1240.0 929.8,1239.1 933.9,1238.0 938.0,1237.0 942.1,1235.8 946.2,1234.7 950.3,1233.4 954.4,1232.1 958.5,1230.8 962.6,1229.4 966.7,1227.9 970.8,1226.4 974.9,1224.8 979.0,1223.2 983.1,1221.5 987.1,1219.7 991.2,1217.8 995.3,1215.9 999.4,1213.9 1003.5,1211.8 1007.6,1209.7 1011.7,1207.5 1015.8,1205.2 1019.9,1202.8 1024.0,1200.4 1028.1,1197.8 1032.2,1195.2 1036.3,1192.5 1040.4,1189.8 1044.5,1186.9 1048.6,1184.0 1052.7,1181.0 1056.7,1177.9 1060.8,1174.7 1064.9,1171.4 1069.0,1168.1 1073.1,1164.7 1077.2,1161.2 1081.3,1157.6 1085.4,1153.9 1089.5,1150.2 1093.6,1146.4 1097.7,1142.5 1101.8,1138.5 1105.9,1134.5 1110.0,1130.5 1114.1,1126.3 1118.2,1122.1 1122.2,1117.9 1126.3,1113.6 1130.4,1109.2 1134.5,1104.9 1138.6,1100.5 1142.7,1096.0 1146.8,1091.6 1150.9,1087.2 1155.0,1082.8 1159.1,1078.3 1163.2,1073.9 1167.3,1069.5 1171.4,1065.1 1175.5,1060.7 1179.6,1056.3 1183.7,1051.9 1187.8,1047.6 1191.8,1043.4 1195.9,1039.2 1200.0,1035.0 1204.1,1030.9 1208.2,1026.9 1212.3,1023.0 1216.4,1019.2 1220.5,1015.5 1224.6,1011.8 1228.7,1008.3 1232.8,1004.9 1236.9,1001.7 1241.0,998.6 1245.1,995.6 1249.2,992.8 1253.3,990.1 1257.3,987.6 1261.4,985.3 1265.5,983.1 1269.6,981.1 1273.7,979.4 1277.8,977.8 1281.9,976.4 1286.0,975.2 1290.1,974.2 1294.2,973.4 1298.3,972.8 1302.4,972.4 1306.5,972.2 1310.6,972.3 1314.7,972.5 1318.8,973.0 1322.9,973.6 1326.9,974.5 1331.0,975.5 1335.1,976.8 1339.2,978.2 1343.3,979.9 1347.4,981.7 1351.5,983.7 1355.6,985.9 1359.7,988.2 1363.8,990.8 1367.9,993.5 1372.0,996.3 1376.1,999.4 1380.2,1002.5 1384.3,1005.8 1388.4,1009.3 1392.5,1012.9 1396.5,1016.5 1400.6,1020.3 1404.7,1024.3 1408.8,1028.3 1412.9,1032.4 1417.0,1036.6 1421.1,1040.8 1425.2,1045.1 1429.3,1049.5 1433.4,1054.0 1437.5,1058.5 1441.6,1063.0 1445.7,1067.6 1449.8,1072.2 1453.9,1076.8 1458.0,1081.4 1462.0,1086.0 1466.1,1090.7 1470.2,1095.3 1474.3,1099.9 1478.4,1104.5 1482.5,1109.1 1486.6,1113.6 1490.7,1118.1 1494.8,1122.6 1498.9,1127.1 1503.0,1131.5 1507.1,1135.7 1511.2,1140.0 1515.3,1144.1 1519.4,1148.2 1523.5,1152.3 1527.6,1156.3 1531.6,1160.2 1535.7,1164.0 1539.8,1167.8 1543.9,1171.5 1548.0,1175.1 1552.1,1178.7 1556.2,1182.2 1560.3,1185.6 1564.4,1188.9 1568.5,1192.1 1572.6,1195.3 1576.7,1198.4 1580.8,1201.4 1584.9,1204.3 1589.0,1207.1 1593.1,1209.9 1597.2,1212.6 1601.2,1215.2 1605.3,1217.7 1609.4,1220.2 1613.5,1222.6 1617.6,1224.9 1621.7,1227.1 1625.8,1229.3 1629.9,1231.4 1634.0,1233.4 1638.1,1235.4 1642.2,1237.3 1646.3,1239.1 1650.4,1240.8 1654.5,1242.5 1658.6,1244.2 1662.7,1245.7 1666.7,1247.3 1670.8,1248.7 1674.9,1250.1 1679.0,1251.5 1683.1,1252.8 1687.2,1254.0 1691.3,1255.2 1695.4,1256.4 1699.5,1257.5" stroke="#ff0000" stroke-width="6" shape-rendering="geometricPrecision"/>
<polyline points="66.0,1250.0 70.1,1250.0 74.2,1250.0 78.3,1250.0 82.4,1250.0 86.5,1250.0 90.6,1250.1 94.7,1250.1 98.8,1250.1 102.8,1250.1 106.9,1250.1 111.0,1250.1 115.1,1250.1 119.2,1250.1 123.3,1250.1 127.4,1250.1 131.5,1250.1 135.6,1250.1 139.7,1250.2 143.8,1250.2 147.9,1250.2 152.0,1250.2 156.1,1250.2 160.2,1250.2 164.3,1250.2 168.3,1250.2 172.4,1250.2 176.5,1250.2 180.6,1250.2 184.7,1250.2 188.8,1250.2 192.9,1250.2 197.0,1250.2 201.1,1250.2 205.2,1250.2 209.3,1250.2 213.4,1250.2 217.5,1250.2 221.6,1250.2 225.7,1250.2 229.8,1250.2 233.9,1250.2 237.9,1250.2 242.0,1250.2 246.1,1250.2 250.2,1250.1 254.3,1250.1 258.4,1250.1 262.5,1250.1 266.6,1250.0 270.7,1250.0 274.8,1249.9 278.9,1249.9 283.0,1249.8 287.1,1249.7 291.2,1249.7 295.3,1249.6 299.4,1249.5 303.5,1249.4 307.5,1249.3 311.6,1249.2 315.7,1249.0 319.8,1248.9 323.9,1248.7 328.0,1248.6 332.1,1248.4 336.2,1248.1 340.3,1247.9 344.4,1247.6 348.5,1247.3 352.6,1247.0 356.7,1246.6 360.8,1246.2 364.9,1245.8 369.0,1245.3 373.0,1244.8 377.1,1244.2 381.2,1243.6 385.3,1242.9 389.4,1242.2 393.5,1241.4 397.6,1240.5 401.7,1239.6 405.8,1238.6 409.9,1237.6 414.0,1236.4 418.1,1235.2 422.2,1233.9 426.3,1232.5 430.4,1231.0 434.5,1229.4 438.6,1227.7 442.6,1225.9 446.7,1223.9 450.8,1221.9 454.9,1219.8 459.0,1217.5 463.1,1215.1 467.2,1212.5 471.3,1209.9 475.4,1207.1 479.5,1204.2 483.6,1201.1 487.7,1197.9 491.8,1194.6 495.9,1191.1 500.0,1187.5 504.1,1183.9 508.2,1180.1 512.2,1176.1 516.3,1172.1 520.4,1167.9 524.5,1163.7 528.6,1159.3 532.7,1154.9 536.8,1150.3 540.9,1145.7 545.0,1141.1 549.1,1136.4 553.2,1131.6 557.3,1126.9 561.4,1122.2 565.5,1117.4 569.6,1112.8 573.7,1108.1 577.7,1103.6 581.8,1099.1 585.9,1094.8 590.0,1090.6 594.1,1086.5 598.2,1082.6 602.3,1079.0 606.4,1075.5 610.5,1072.3 614.6,1069.3 618.7,1066.6 622.8,1064.1 626.9,1062.0 631.0,1060.2 635.1,1058.7 639.2,1057.5 643.3,1056.7 647.3,1056.2 651.4,1056.0 655.5,1056.2 659.6,1056.7 663.7,1057.5 667.8,1058.6 671.9,1060.0 676.0,1061.7 680.1,1063.6 684.2,1065.9 688.3,1068.4 692.4,1071.1 696.5,1074.0 700.6,1077.2 704.7,1080.6 708.8,1084.1 712.8,1087.9 716.9,1091.7 721.0,1095.8 725.1,1099.9 729.2,1104.2 733.3,1108.5 737.4,1112.9 741.5,1117.4 745.6,1121.9 749.7,1126.5 753.8,1131.0 757.9,1135.6 762.0,1140.2 766.1,1144.7 770.2,1149.2 774.3,1153.6 778.4,1158.0 782.4,1162.3 786.5,1166.6 790.6,1170.8 794.7,1174.8 798.8,1178.8 802.9,1182.7 807.0,1186.4 811.1,1190.1 815.2,1193.7 819.3,1197.1 823.4,1200.4 827.5,1203.6 831.6,1206.7 835.7,1209.7 839.8,1212.5 843.9,1215.2 848.0,1217.8 852.0,1220.3 856.1,1222.7 860.2,1225.0 864.3,1227.2 868.4,1229.2 872.5,1231.2 876.6,1233.1 880.7,1234.8 884.8,1236.5 888.9,1238.1 893.0,1239.6 897.1,1241.0 901.2,1242.3 905.3,1243.6 909.4,1244.7 913.5,1245.8 917.5,1246.9 921.6,1247.9 925.7,1248.8 929.8,1249.6 933.9,1250.4 938.0,1251.2 942.1,1251.9 946.2,1252.6 950.3,1253.2 954.4,1253.8 958.5,1254.3 962.6,1254.8 966.7,1255.3 970.8,1255.7 974.9,1256.1 979.0,1256.5 983.1,1256.9 987.1,1257.2 991.2,1257.5 995.3,1257.8 999.4,1258.1 1003.5,1258.3 1007.6,1258.5 1011.7,1258.8 1015.8,1259.0 1019.9,1259.2 1024.0,1259.3 1028.1,1259.5 1032.2,1259.7 1036.3,1259.8 1040.4,1260.0 1044.5,1260.1 1048.6,1260.2 1052.7,1260.3 1056.7,1260.5 1060.8,1260.6 1064.9,1260.7 1069.0,1260.7 1073.1,1260.8 1077.2,1260.9 1081.3,1261.0 1085.4,1261.1 1089.5,1261.1 1093.6,1261.2 1097.7,1261.3 1101.8,1261.4 1105.9,1261.4 1110.0,1261.5 1114.1,1261.5 1118.2,1261.6 1122.2,1261.7 1126.3,1261.7 1130.4,1261.8 1134.5,1261.8 1138.6,1261.9 1142.7,1261.9 1146.8,1262.1 1150.9,1262.2 1155.0,1262.4 1159.1,1262.5 1163.2,1262.6 1167.3,1262.8 1171.4,1262.9 1175.5,1263.1 1179.6,1263.2 1183.7,1263.4 1187.8,1263.5 1191.8,1263.6 1195.9,1263.8 1200.0,1263.9 1204.1,1264.1 1208.2,1264.2 1212.3,1264.4 1216.4,1264.5 1220.5,1264.6 1224.6,1264.8 1228.7,1264.9 1232.8,1265.1 1236.9,1265.2 1241.0,1265.4 1245.1,1265.5 1249.2,1265.6 1253.3,1265.8 1257.3,1265.9 1261.4,1266.1 1265.5,1266.2 1269.6,1266.3 1273.7,1266.5 1277.8,1266.6 1281.9,1266.8 1286.0,1266.9 1290.1,1267.1 1294.2,1267.2 1298.3,1267.3 1302.4,1267.5 1306.5,1267.6 1310.6,1267.8 1314.7,1267.9 1318.8,1268.0 1322.9,1268.2 1326.9,1268.3 1331.0,1268.5 1335.1,1268.6 1339.2,1268.7 1343.3,1268.9 1347.4,1269.0 1351.5,1269.1 1355.6,1269.3 1359.7,1269.4 1363.8,1269.5 1367.9,1269.6 1372.0,1269.8 1376.1,1269.9 1380.2,1270.0 1384.3,1270.2 1388.4,1270.3 1392.5,1270.4 1396.5,1270.6 1400.6,1270.7 1404.7,1270.8 1408.8,1271.0 1412.9,1271.1 1417.0,1271.2 1421.1,1271.3 1425.2,1271.5 1429.3,1271.6 1433.4,1271.7 1437.5,1271.9 1441.6,1272.0 1445.7,1272.1 1449.8,1272.3 1453.9,1272.4 1458.0,1272.5 1462.0,1272.7 1466.1,1272.8 1470.2,1272.9 1474.3,1273.1 1478.4,1273.2 1482.5,1273.3 1486.6,1273.4 1490.7,1273.6 1494.8,1273.7 1498.9,1273.8 1503.0,1274.0 1507.1,1274.0 1511.2,1274.1 1515.3,1274.2 1519.4,1274.2 1523.5,1274.3 1527.6,1274.4 1531.6,1274.4 1535.7,1274.5 1539.8,1274.5 1543.9,1274.6 1548.0,1274.7 1552.1,1274.7 1556.2,1274.8 1560.3,1274.9 1564.4,1274.9 1568.5,1275.0 1572.6,1275.1 1576.7,1275.1 1580.8,1275.2 1584.9,1275.2 1589.0,1275.3 1593.1,1275.4 1597.2,1275.4 1601.2,1275.5 1605.3,1275.6 1609.4,1275.6 1613.5,1275.7 1617.6,1275.7 1621.7,1275.8 1625.8,1275.9 1629.9,1275.9 1634.0,1276.0 1638.1,1276.1 1642.2,1276.1 1646.3,1276.2 1650.4,1276.2 1654.5,1276.3 1658.6,1276.4 1662.7,1276.4 1666.7,1276.5 1670.8,1276.6 1674.9,1276.6 1679.0,1276.7 1683.1,1276.7 1687.2,1276.8 1691.3,1276.9 1695.4,1276.9 1699.5,1277.0" stroke="#0000ff" stroke-width="9"/><polyline points="66.0,1250.0 70.1,1250.0 74.2,1250.0 78.3,1250.0 82.4,1250.0 86.5,1250.0 90.6,1250.1 94.7,1250.1 98.8,1250.1 102.8,1250.1 106.9,1250.1 111.0,1250.1 115.1,1250.1 119.2,1250.1 123.3,1250.1 127.4,1250.1 131.5,1250.1 135.6,1250.1 139.7,1250.2 143.8,1250.2 147.9,1250.2 152.0,1250.2 156.1,1250.2 160.2,1250.2 164.3,1250.2 168.3,1250.2 172.4,1250.2 176.5,1250.2 180.6,1250.2 184.7,1250.2 188.8,1250.2 192.9,1250.2 197.0,1250.2 201.1,1250.2 205.2,1250.2 209.3,1250.2 213.4,1250.2 217.5,1250.2 221.6,1250.2 225.7,1250.2 229.8,1250.2 233.9,1250.2 237.9,1250.2 242.0,1250.2 246.1,1250.2 250.2,1250.1 254.3,1250.1 258.4,1250.1 262.5,1250.1 266.6,1250.0 270.7,1250.0 274.8,1249.9 278.9,1249.9 283.0,1249.8 287.1,1249.7 291.2,1249.7 295.3,1249.6 299.4,1249.5 303.5,1249.4 307.5,1249.3 311.6,1249.2 315.7,1249.0 319.8,1248.9 323.9,1248.7 328.0,1248.6 332.1,1248.4 336.2,1248.1 340.3,1247.9 344.4,1247.6 348.5,1247.3 352.6,1247.0 356.7,1246.6 360.8,1246.2 364.9,1245.8 369.0,1245.3 373.0,1244.8 377.1,1244.2 381.2,1243.6 385.3,1242.9 389.4,1242.2 393.5,1241.4 397.6,1240.5 401.7,1239.6 405.8,1238.6 409.9,1237.6 414.0,1236.4 418.1,1235.2 422.2,1233.9 426.3,1232.5 430.4,1231.0 434.5,1229.4 438.6,1227.7 442.6,1225.9 446.7,1223.9 450.8,1221.9 454.9,1219.8 459.0,1217.5 463.1,1215.1 467.2,1212.5 471.3,1209.9 475.4,1207.1 479.5,1204.2 483.6,1201.1 487.7,1197.9 491.8,1194.6 495.9,1191.1 500.0,1187.5 504.1,1183.9 508.2,1180.1 512.2,1176.1 516.3,1172.1 520.4,1167.9 524.5,1163.7 528.6,1159.3 532.7,1154.9 536.8,1150.3 540.9,1145.7 545.0,1141.1 549.1,1136.4 553.2,1131.6 557.3,1126.9 561.4,1122.2 565.5,1117.4 569.6,1112.8 573.7,1108.1 577.7,1103.6 581.8,1099.1 585.9,1094.8 590.0,1090.6 594.1,1086.5 598.2,1082.6 602.3,1079.0 606.4,1075.5 610.5,1072.3 614.6,1069.3 618.7,1066.6 622.8,1064.1 626.9,1062.0 631.0,1060.2 635.1,1058.7 639.2,1057.5 643.3,1056.7 647.3,1056.2 651.4,1056.0 655.5,1056.2 659.6,1056.7 663.7,1057.5 667.8,1058.6 671.9,1060.0 676.0,1061.7 680.1,1063.6 684.2,1065.9 688.3,1068.4 692.4,1071.1 696.5,1074.0 700.6,1077.2 704.7,1080.6 708.8,1084.1 712.8,1087.9 716.9,1091.7 721.0,1095.8 725.1,1099.9 729.2,1104.2 733.3,1108.5 737.4,1112.9 741.5,1117.4 745.6,1121.9 749.7,1126.5 753.8,1131.0 757.9,1135.6 762.0,1140.2 766.1,1144.7 770.2,1149.2 774.3,1153.6 778.4,1158.0 782.4,1162.3 786.5,1166.6 790.6,1170.8 794.7,1174.8 798.8,1178.8 802.9,1182.7 807.0,1186.4 811.1,1190.1 815.2,1193.7 819.3,1197.1 823.4,1200.4 827.5,1203.6 831.6,1206.7 835.7,1209.7 839.8,1212.5 843.9,1215.2 848.0,1217.8 852.0,1220.3 856.1,1222.7 860.2,1225.0 864.3,1227.2 868.4,1229.2 872.5,1231.2 876.6,1233.1 880.7,1234.8 884.8,1236.5 888.9,1238.1 893.0,1239.6 897.1,1241.0 901.2,1242.3 905.3,1243.6 909.4,1244.7 913.5,1245.8 917.5,1246.9 921.6,1247.9 925.7,1248.8 929.8,1249.6 933.9,1250.4 938.0,1251.2 942.1,1251.9 946.2,1252.6 950.3,1253.2 954.4,1253.8 958.5,1254.3 962.6,1254.8 966.7,1255.3 970.8,1255.7 974.9,1256.1 979.0,1256.5 983.1,1256.9 987.1,1257.2 991.2,1257.5 995.3,1257.8 999.4,1258.1 1003.5,1258.3 1007.6,1258.5 1011.7,1258.8 1015.8,1259.0 1019.9,1259.2 1024.0,1259.3 1028.1,1259.5 1032.2,1259.7 1036.3,1259.8 1040.4,1260.0 1044.5,1260.1 1048.6,1260.2 1052.7,1260.3 1056.7,1260.5 1060.8,1260.6 1064.9,1260.7 1069.0,1260.7 1073.1,1260.8 1077.2,1260.9 1081.3,1261.0 1085.4,1261.1 1089.5,1261.1 1093.6,1261.2 1097.7,1261.3 1101.8,1261.4 1105.9,1261.4 1110.0,1261.5 1114.1,1261.5 1118.2,1261.6 1122.2,1261.7 1126.3,1261.7 1130.4,1261.8 1134.5,1261.8 1138.6,1261.9 1142.7,1261.9 1146.8,1262.1 1150.9,1262.2 1155.0,1262.4 1159.1,1262.5 1163.2,1262.6 1167.3,1262.8 1171.4,1262.9 1175.5,1263.1 1179.6,1263.2 1183.7,1263.4 1187.8,1263.5 1191.8,1263.6 1195.9,1263.8 1200.0,1263.9 1204.1,1264.1 1208.2,1264.2 1212.3,1264.4 1216.4,1264.5 1220.5,1264.6 1224.6,1264.8 1228.7,1264.9 1232.8,1265.1 1236.9,1265.2 1241.0,1265.4 1245.1,1265.5 1249.2,1265.6 1253.3,1265.8 1257.3,1265.9 1261.4,1266.1 1265.5,1266.2 1269.6,1266.3 1273.7,1266.5 1277.8,1266.6 1281.9,1266.8 1286.0,1266.9 1290.1,1267.1 1294.2,1267.2 1298.3,1267.3 1302.4,1267.5 1306.5,1267.6 1310.6,1267.8 1314.7,1267.9 1318.8,1268.0 1322.9,1268.2 1326.9,1268.3 1331.0,1268.5 1335.1,1268.6 1339.2,1268.7 1343.3,1268.9 1347.4,1269.0 1351.5,1269.1 1355.6,1269.3 1359.7,1269.4 1363.8,1269.5 1367.9,1269.6 1372.0,1269.8 1376.1,1269.9 1380.2,1270.0 1384.3,1270.2 1388.4,1270.3 1392.5,1270.4 1396.5,1270.6 1400.6,1270.7 1404.7,1270.8 1408.8,1271.0 1412.9,1271.1 1417.0,1271.2 1421.1,1271.3 1425.2,1271.5 1429.3,1271.6 1433.4,1271.7 1437.5,1271.9 1441.6,1272.0 1445.7,1272.1 1449.8,1272.3 1453.9,1272.4 1458.0,1272.5 1462.0,1272.7 1466.1,1272.8 1470.2,1272.9 1474.3,1273.1 1478.4,1273.2 1482.5,1273.3 1486.6,1273.4 1490.7,1273.6 1494.8,1273.7 1498.9,1273.8 1503.0,1274.0 1507.1,1274.0 1511.2,1274.1 1515.3,1274.2 1519.4,1274.2 1523.5,1274.3 1527.6,1274.4 1531.6,1274.4 1535.7,1274.5 1539.8,1274.5 1543.9,1274.6 1548.0,1274.7 1552.1,1274.7 1556.2,1274.8 1560.3,1274.9 1564.4,1274.9 1568.5,1275.0 1572.6,1275.1 1576.7,1275.1 1580.8,1275.2 1584.9,1275.2 1589.0,1275.3 1593.1,1275.4 1597.2,1275.4 1601.2,1275.5 1605.3,1275.6 1609.4,1275.6 1613.5,1275.7 1617.6,1275.7 1621.7,1275.8 1625.8,1275.9 1629.9,1275.9 1634.0,1276.0 1638.1,1276.1 1642.2,1276.1 1646.3,1276.2 1650.4,1276.2 1654.5,1276.3 1658.6,1276.4 1662.7,1276.4 1666.7,1276.5 1670.8,1276.6 1674.9,1276.6 1679.0,1276.7 1683.1,1276.7 1687.2,1276.8 1691.3,1276.9 1695.4,1276.9 1699.5,1277.0" stroke="#0000ff" stroke-width="6" shape-rendering="geometricPrecision"/>
<polyline points="66.0,1250.0 70.1,1250.0 74.2,1250.0 78.3,1250.0 82.4,1250.0 86.5,1250.0 90.6,1250.1 94.7,1250.1 98.8,1250.1 102.8,1250.1 106.9,1250.1 111.0,1250.1 115.1,1250.1 119.2,1250.1 123.3,1250.1 127.4,1250.1 131.5,1250.1 135.6,1250.1 139.7,1250.2 143.8,1250.2 147.9,1250.2 152.0,1250.2 156.1,1250.2 160.2,1250.2 164.3,1250.2 168.3,1250.2 172.4,1250.2 176.5,1250.2 180.6,1250.2 184.7,1250.3 188.8,1250.3 192.9,1250.3 197.0,1250.3 201.1,1250.3 205.2,1250.3 209.3,1250.3 213.4,1250.3 217.5,1250.3 221.6,1250.3 225.7,1250.3 229.8,1250.3 233.9,1250.4 237.9,1250.4 242.0,1250.4 246.1,1250.4 250.2,1250.4 254.3,1250.4 258.4,1250.4 262.5,1250.4 266.6,1250.4 270.7,1250.4 274.8,1250.4 278.9,1250.5 283.0,1250.5 287.1,1250.5 291.2,1250.5 295.3,1250.5 299.4,1250.5 303.5,1250.5 307.5,1250.6 311.6,1250.6 315.7,1250.6 319.8,1250.6 323.9,1250.7 328.0,1250.7 332.1,1250.7 336.2,1250.8 340.3,1250.8 344.4,1250.8 348.5,1250.9 352.6,1250.9 356.7,1250.9 360.8,1251.0 364.9,1251.0 369.0,1251.0 373.0,1251.0 377.1,1251.1 381.2,1251.1 385.3,1251.1 389.4,1251.2 393.5,1251.2 397.6,1251.2 401.7,1251.3 405.8,1251.3 409.9,1251.3 414.0,1251.4 418.1,1251.4 422.2,1251.4 426.3,1251.4 430.4,1251.5 434.5,1251.5 438.6,1251.5 442.6,1251.6 446.7,1251.6 450.8,1251.6 454.9,1251.7 459.0,1251.7 463.1,1251.7 467.2,1251.8 471.3,1251.8 475.4,1251.8 479.5,1251.8 483.6,1251.9 487.7,1251.9 491.8,1251.9 495.9,1252.0 500.0,1252.0 504.1,1252.1 508.2,1252.2 512.2,1252.2 516.3,1252.3 520.4,1252.4 524.5,1252.5 528.6,1252.6 532.7,1252.7 536.8,1252.7 540.9,1252.8 545.0,1252.9 549.1,1253.0 553.2,1253.1 557.3,1253.1 561.4,1253.2 565.5,1253.3 569.6,1253.4 573.7,1253.5 577.7,1253.6 581.8,1253.6 585.9,1253.7 590.0,1253.8 594.1,1253.9 598.2,1254.0 602.3,1254.0 606.4,1254.1 610.5,1254.2 614.6,1254.3 618.7,1254.4 622.8,1254.5 626.9,1254.5 631.0,1254.6 635.1,1254.7 639.2,1254.8 643.3,1254.9 647.3,1254.9 651.4,1255.0 655.5,1255.1 659.6,1255.2 663.7,1255.3 667.8,1255.4 671.9,1255.4 676.0,1255.5 680.1,1255.6 684.2,1255.7 688.3,1255.8 692.4,1255.8 696.5,1255.9 700.6,1256.0 704.7,1256.1 708.8,1256.1 712.8,1256.2 716.9,1256.2 721.0,1256.3 725.1,1256.3 729.2,1256.4 733.3,1256.5 737.4,1256.5 741.5,1256.6 745.6,1256.6 749.7,1256.7 753.8,1256.7 757.9,1256.8 762.0,1256.9 766.1,1256.9 770.2,1257.0 774.3,1257.0 778.4,1257.1 782.4,1257.1 786.5,1257.2 790.6,1257.3 794.7,1257.3 798.8,1257.4 802.9,1257.4 807.0,1257.5 811.1,1257.5 815.2,1257.6 819.3,1257.7 823.4,1257.7 827.5,1257.8 831.6,1257.8 835.7,1257.9 839.8,1257.9 843.9,1258.0 848.0,1258.1 852.0,1258.1 856.1,1258.2 860.2,1258.2 864.3,1258.3 868.4,1258.3 872.5,1258.4 876.6,1258.5 880.7,1258.5 884.8,1258.6 888.9,1258.6 893.0,1258.7 897.1,1258.7 901.2,1258.8 905.3,1258.9 909.4,1258.9 913.5,1259.0 917.5,1259.0 921.6,1259.1 925.7,1259.1 929.8,1259.2 933.9,1259.2 938.0,1259.3 942.1,1259.4 946.2,1259.4 950.3,1259.5 954.4,1259.5 958.5,1259.6 962.6,1259.6 966.7,1259.7 970.8,1259.8 974.9,1259.8 979.0,1259.9 983.1,1259.9 987.1,1260.0 991.2,1260.0 995.3,1260.1 999.4,1260.2 1003.5,1260.2 1007.6,1260.3 1011.7,1260.3 1015.8,1260.4 1019.9,1260.4 1024.0,1260.5 1028.1,1260.6 1032.2,1260.6 1036.3,1260.7 1040.4,1260.7 1044.5,1260.8 1048.6,1260.8 1052.7,1260.9 1056.7,1261.0 1060.8,1261.0 1064.9,1261.1 1069.0,1261.1 1073.1,1261.2 1077.2,1261.2 1081.3,1261.3 1085.4,1261.3 1089.5,1261.4 1093.6,1261.4 1097.7,1261.4 1101.8,1261.5 1105.9,1261.5 1110.0,1261.6 1114.1,1261.6 1118.2,1261.7 1122.2,1261.7 1126.3,1261.8 1130.4,1261.8 1134.5,1261.9 1138.6,1261.9 1142.7,1262.0 1146.8,1262.1 1150.9,1262.2 1155.0,1262.4 1159.1,1262.5 1163.2,1262.7 1167.3,1262.8 1171.4,1262.9 1175.5,1263.1 1179.6,1263.2 1183.7,1263.4 1187.8,1263.5 1191.8,1263.7 1195.9,1263.8 1200.0,1263.9 1204.1,1264.1 1208.2,1264.2 1212.3,1264.4 1216.4,1264.5 1220.5,1264.6 1224.6,1264.8 1228.7,1264.9 1232.8,1265.1 1236.9,1265.2 1241.0,1265.4 1245.1,1265.5 1249.2,1265.6 1253.3,1265.8 1257.3,1265.9 1261.4,1266.1 1265.5,1266.2 1269.6,1266.3 1273.7,1266.5 1277.8,1266.6 1281.9,1266.8 1286.0,1266.9 1290.1,1267.1 1294.2,1267.2 1298.3,1267.3 1302.4,1267.5 1306.5,1267.6 1310.6,1267.8 1314.7,1267.9 1318.8,1268.0 1322.9,1268.2 1326.9,1268.3 1331.0,1268.5 1335.1,1268.6 1339.2,1268.7 1343.3,1268.9 1347.4,1269.0 1351.5,1269.1 1355.6,1269.3 1359.7,1269.4 1363.8,1269.5 1367.9,1269.6 1372.0,1269.8 1376.1,1269.9 1380.2,1270.0 1384.3,1270.2 1388.4,1270.3 1392.5,1270.4 1396.5,1270.6 1400.6,1270.7 1404.7,1270.8 1408.8,1271.0 1412.9,1271.1 1417.0,1271.2 1421.1,1271.3 1425.2,1271.5 1429.3,1271.6 1433.4,1271.7 1437.5,1271.9 1441.6,1272.0 1445.7,1272.1 1449.8,1272.3 1453.9,1272.4 1458.0,1272.5 1462.0,1272.7 1466.1,1272.8 1470.2,1272.9 1474.3,1273.1 1478.4,1273.2 1482.5,1273.3 1486.6,1273.4 1490.7,1273.6 1494.8,1273.7 1498.9,1273.8 1503.0,1274.0 1507.1,1274.0 1511.2,1274.1 1515.3,1274.2 1519.4,1274.2 1523.5,1274.3 1527.6,1274.4 1531.6,1274.4 1535.7,1274.5 1539.8,1274.5 1543.9,1274.6 1548.0,1274.7 1552.1,1274.7 1556.2,1274.8 1560.3,1274.9 1564.4,1274.9 1568.5,1275.0 1572.6,1275.1 1576.7,1275.1 1580.8,1275.2 1584.9,1275.2 1589.0,1275.3 1593.1,1275.4 1597.2,1275.4 1601.2,1275.5 1605.3,1275.6 1609.4,1275.6 1613.5,1275.7 1617.6,1275.7 1621.7,1275.8 1625.8,1275.9 1629.9,1275.9 1634.0,1276.0 1638.1,1276.1 1642.2,1276.1 1646.3,1276.2 1650.4,1276.2 1654.5,1276.3 1658.6,1276.4 1662.7,1276.4 1666.7,1276.5 1670.8,1276.6 1674.9,1276.6 1679.0,1276.7 1683.1,1276.7 1687.2,1276.8 1691.3,1276.9 1695.4,1276.9 1699.5,1277.0" stroke="#ff00ff" stroke-width="9.4"/><polyline points="66.0,1250.0 70.1,1250.0 74.2,1250.0 78.3,1250.0 82.4,1250.0 86.5,1250.0 90.6,1250.1 94.7,1250.1 98.8,1250.1 102.8,1250.1 106.9,1250.1 111.0,1250.1 115.1,1250.1 119.2,1250.1 123.3,1250.1 127.4,1250.1 131.5,1250.1 135.6,1250.1 139.7,1250.2 143.8,1250.2 147.9,1250.2 152.0,1250.2 156.1,1250.2 160.2,1250.2 164.3,1250.2 168.3,1250.2 172.4,1250.2 176.5,1250.2 180.6,1250.2 184.7,1250.3 188.8,1250.3 192.9,1250.3 197.0,1250.3 201.1,1250.3 205.2,1250.3 209.3,1250.3 213.4,1250.3 217.5,1250.3 221.6,1250.3 225.7,1250.3 229.8,1250.3 233.9,1250.4 237.9,1250.4 242.0,1250.4 246.1,1250.4 250.2,1250.4 254.3,1250.4 258.4,1250.4 262.5,1250.4 266.6,1250.4 270.7,1250.4 274.8,1250.4 278.9,1250.5 283.0,1250.5 287.1,1250.5 291.2,1250.5 295.3,1250.5 299.4,1250.5 303.5,1250.5 307.5,1250.6 311.6,1250.6 315.7,1250.6 319.8,1250.6 323.9,1250.7 328.0,1250.7 332.1,1250.7 336.2,1250.8 340.3,1250.8 344.4,1250.8 348.5,1250.9 352.6,1250.9 356.7,1250.9 360.8,1251.0 364.9,1251.0 369.0,1251.0 373.0,1251.0 377.1,1251.1 381.2,1251.1 385.3,1251.1 389.4,1251.2 393.5,1251.2 397.6,1251.2 401.7,1251.3 405.8,1251.3 409.9,1251.3 414.0,1251.4 418.1,1251.4 422.2,1251.4 426.3,1251.4 430.4,1251.5 434.5,1251.5 438.6,1251.5 442.6,1251.6 446.7,1251.6 450.8,1251.6 454.9,1251.7 459.0,1251.7 463.1,1251.7 467.2,1251.8 471.3,1251.8 475.4,1251.8 479.5,1251.8 483.6,1251.9 487.7,1251.9 491.8,1251.9 495.9,1252.0 500.0,1252.0 504.1,1252.1 508.2,1252.2 512.2,1252.2 516.3,1252.3 520.4,1252.4 524.5,1252.5 528.6,1252.6 532.7,1252.7 536.8,1252.7 540.9,1252.8 545.0,1252.9 549.1,1253.0 553.2,1253.1 557.3,1253.1 561.4,1253.2 565.5,1253.3 569.6,1253.4 573.7,1253.5 577.7,1253.6 581.8,1253.6 585.9,1253.7 590.0,1253.8 594.1,1253.9 598.2,1254.0 602.3,1254.0 606.4,1254.1 610.5,1254.2 614.6,1254.3 618.7,1254.4 622.8,1254.5 626.9,1254.5 631.0,1254.6 635.1,1254.7 639.2,1254.8 643.3,1254.9 647.3,1254.9 651.4,1255.0 655.5,1255.1 659.6,1255.2 663.7,1255.3 667.8,1255.4 671.9,1255.4 676.0,1255.5 680.1,1255.6 684.2,1255.7 688.3,1255.8 692.4,1255.8 696.5,1255.9 700.6,1256.0 704.7,1256.1 708.8,1256.1 712.8,1256.2 716.9,1256.2 721.0,1256.3 725.1,1256.3 729.2,1256.4 733.3,1256.5 737.4,1256.5 741.5,1256.6 745.6,1256.6 749.7,1256.7 753.8,1256.7 757.9,1256.8 762.0,1256.9 766.1,1256.9 770.2,1257.0 774.3,1257.0 778.4,1257.1 782.4,1257.1 786.5,1257.2 790.6,1257.3 794.7,1257.3 798.8,1257.4 802.9,1257.4 807.0,1257.5 811.1,1257.5 815.2,1257.6 819.3,1257.7 823.4,1257.7 827.5,1257.8 831.6,1257.8 835.7,1257.9 839.8,1257.9 843.9,1258.0 848.0,1258.1 852.0,1258.1 856.1,1258.2 860.2,1258.2 864.3,1258.3 868.4,1258.3 872.5,1258.4 876.6,1258.5 880.7,1258.5 884.8,1258.6 888.9,1258.6 893.0,1258.7 897.1,1258.7 901.2,1258.8 905.3,1258.9 909.4,1258.9 913.5,1259.0 917.5,1259.0 921.6,1259.1 925.7,1259.1 929.8,1259.2 933.9,1259.2 938.0,1259.3 942.1,1259.4 946.2,1259.4 950.3,1259.5 954.4,1259.5 958.5,1259.6 962.6,1259.6 966.7,1259.7 970.8,1259.8 974.9,1259.8 979.0,1259.9 983.1,1259.9 987.1,1260.0 991.2,1260.0 995.3,1260.1 999.4,1260.2 1003.5,1260.2 1007.6,1260.3 1011.7,1260.3 1015.8,1260.4 1019.9,1260.4 1024.0,1260.5 1028.1,1260.6 1032.2,1260.6 1036.3,1260.7 1040.4,1260.7 1044.5,1260.8 1048.6,1260.8 1052.7,1260.9 1056.7,1261.0 1060.8,1261.0 1064.9,1261.1 1069.0,1261.1 1073.1,1261.2 1077.2,1261.2 1081.3,1261.3 1085.4,1261.3 1089.5,1261.4 1093.6,1261.4 1097.7,1261.4 1101.8,1261.5 1105.9,1261.5 1110.0,1261.6 1114.1,1261.6 1118.2,1261.7 1122.2,1261.7 1126.3,1261.8 1130.4,1261.8 1134.5,1261.9 1138.6,1261.9 1142.7,1262.0 1146.8,1262.1 1150.9,1262.2 1155.0,1262.4 1159.1,1262.5 1163.2,1262.7 1167.3,1262.8 1171.4,1262.9 1175.5,1263.1 1179.6,1263.2 1183.7,1263.4 1187.8,1263.5 1191.8,1263.7 1195.9,1263.8 1200.0,1263.9 1204.1,1264.1 1208.2,1264.2 1212.3,1264.4 1216.4,1264.5 1220.5,1264.6 1224.6,1264.8 1228.7,1264.9 1232.8,1265.1 1236.9,1265.2 1241.0,1265.4 1245.1,1265.5 1249.2,1265.6 1253.3,1265.8 1257.3,1265.9 1261.4,1266.1 1265.5,1266.2 1269.6,1266.3 1273.7,1266.5 1277.8,1266.6 1281.9,1266.8 1286.0,1266.9 1290.1,1267.1 1294.2,1267.2 1298.3,1267.3 1302.4,1267.5 1306.5,1267.6 1310.6,1267.8 1314.7,1267.9 1318.8,1268.0 1322.9,1268.2 1326.9,1268.3 1331.0,1268.5 1335.1,1268.6 1339.2,1268.7 1343.3,1268.9 1347.4,1269.0 1351.5,1269.1 1355.6,1269.3 1359.7,1269.4 1363.8,1269.5 1367.9,1269.6 1372.0,1269.8 1376.1,1269.9 1380.2,1270.0 1384.3,1270.2 1388.4,1270.3 1392.5,1270.4 1396.5,1270.6 1400.6,1270.7 1404.7,1270.8 1408.8,1271.0 1412.9,1271.1 1417.0,1271.2 1421.1,1271.3 1425.2,1271.5 1429.3,1271.6 1433.4,1271.7 1437.5,1271.9 1441.6,1272.0 1445.7,1272.1 1449.8,1272.3 1453.9,1272.4 1458.0,1272.5 1462.0,1272.7 1466.1,1272.8 1470.2,1272.9 1474.3,1273.1 1478.4,1273.2 1482.5,1273.3 1486.6,1273.4 1490.7,1273.6 1494.8,1273.7 1498.9,1273.8 1503.0,1274.0 1507.1,1274.0 1511.2,1274.1 1515.3,1274.2 1519.4,1274.2 1523.5,1274.3 1527.6,1274.4 1531.6,1274.4 1535.7,1274.5 1539.8,1274.5 1543.9,1274.6 1548.0,1274.7 1552.1,1274.7 1556.2,1274.8 1560.3,1274.9 1564.4,1274.9 1568.5,1275.0 1572.6,1275.1 1576.7,1275.1 1580.8,1275.2 1584.9,1275.2 1589.0,1275.3 1593.1,1275.4 1597.2,1275.4 1601.2,1275.5 1605.3,1275.6 1609.4,1275.6 1613.5,1275.7 1617.6,1275.7 1621.7,1275.8 1625.8,1275.9 1629.9,1275.9 1634.0,1276.0 1638.1,1276.1 1642.2,1276.1 1646.3,1276.2 1650.4,1276.2 1654.5,1276.3 1658.6,1276.4 1662.7,1276.4 1666.7,1276.5 1670.8,1276.6 1674.9,1276.6 1679.0,1276.7 1683.1,1276.7 1687.2,1276.8 1691.3,1276.9 1695.4,1276.9 1699.5,1277.0" stroke="#ff00ff" stroke-width="6.4" shape-rendering="geometricPrecision"/>
<polyline points="66.0,1250.0 70.1,1250.0 74.2,1250.0 78.3,1250.0 82.4,1250.0 86.5,1250.0 90.6,1250.1 94.7,1250.1 98.8,1250.1 102.8,1250.1 106.9,1250.1 111.0,1250.1 115.1,1250.1 119.2,1250.1 123.3,1250.1 127.4,1250.1 131.5,1250.1 135.6,1250.1 139.7,1250.2 143.8,1250.2 147.9,1250.2 152.0,1250.2 156.1,1250.2 160.2,1250.2 164.3,1250.2 168.3,1250.2 172.4,1250.2 176.5,1250.2 180.6,1250.2 184.7,1250.2 188.8,1250.2 192.9,1250.2 197.0,1250.2 201.1,1250.2 205.2,1250.2 209.3,1250.2 213.4,1250.2 217.5,1250.2 221.6,1250.2 225.7,1250.2 229.8,1250.2 233.9,1250.2 237.9,1250.2 242.0,1250.2 246.1,1250.2 250.2,1250.1 254.3,1250.1 258.4,1250.1 262.5,1250.1 266.6,1250.0 270.7,1250.0 274.8,1249.9 278.9,1249.9 283.0,1249.8 287.1,1249.7 291.2,1249.7 295.3,1249.6 299.4,1249.5 303.5,1249.4 307.5,1249.3 311.6,1249.2 315.7,1249.0 319.8,1248.9 323.9,1248.7 328.0,1248.6 332.1,1248.4 336.2,1248.1 340.3,1247.9 344.4,1247.6 348.5,1247.3 352.6,1247.0 356.7,1246.6 360.8,1246.2 364.9,1245.8 369.0,1245.3 373.0,1244.8 377.1,1244.2 381.2,1243.6 385.3,1242.9 389.4,1242.2 393.5,1241.4 397.6,1240.5 401.7,1239.6 405.8,1238.6 409.9,1237.6 414.0,1236.4 418.1,1235.2 422.2,1233.9 426.3,1232.5 430.4,1231.0 434.5,1229.4 438.6,1227.7 442.6,1225.9 446.7,1223.9 450.8,1221.9 454.9,1219.7 459.0,1217.5 463.1,1215.1 467.2,1212.5 471.3,1209.9 475.4,1207.1 479.5,1204.2 483.6,1201.1 487.7,1197.9 491.8,1194.6 495.9,1191.1 500.0,1187.5 504.1,1183.9 508.2,1180.1 512.2,1176.1 516.3,1172.1 520.4,1167.9 524.5,1163.7 528.6,1159.3 532.7,1154.8 536.8,1150.3 540.9,1145.7 545.0,1141.0 549.1,1136.3 553.2,1131.6 557.3,1126.9 561.4,1122.1 565.5,1117.4 569.6,1112.7 573.7,1108.1 577.7,1103.5 581.8,1099.1 585.9,1094.7 590.0,1090.5 594.1,1086.5 598.2,1082.6 602.3,1078.9 606.4,1075.4 610.5,1072.2 614.6,1069.2 618.7,1066.4 622.8,1064.0 626.9,1061.9 631.0,1060.0 635.1,1058.5 639.2,1057.3 643.3,1056.5 647.3,1056.0 651.4,1055.8 655.5,1056.0 659.6,1056.5 663.7,1057.2 667.8,1058.3 671.9,1059.7 676.0,1061.3 680.1,1063.3 684.2,1065.5 688.3,1067.9 692.4,1070.6 696.5,1073.5 700.6,1076.7 704.7,1080.0 708.8,1083.5 712.8,1087.2 716.9,1091.0 721.0,1095.0 725.1,1099.0 729.2,1103.2 733.3,1107.5 737.4,1111.9 741.5,1116.3 745.6,1120.7 749.7,1125.2 753.8,1129.6 757.9,1134.1 762.0,1138.5 766.1,1142.9 770.2,1147.3 774.3,1151.6 778.4,1155.9 782.4,1160.0 786.5,1164.1 790.6,1168.1 794.7,1172.0 798.8,1175.8 802.9,1179.5 807.0,1183.0 811.1,1186.4 815.2,1189.8 819.3,1192.9 823.4,1196.0 827.5,1198.9 831.6,1201.7 835.7,1204.3 839.8,1206.8 843.9,1209.2 848.0,1211.4 852.0,1213.5 856.1,1215.4 860.2,1217.3 864.3,1219.0 868.4,1220.5 872.5,1222.0 876.6,1223.3 880.7,1224.4 884.8,1225.5 888.9,1226.4 893.0,1227.2 897.1,1227.9 901.2,1228.5 905.3,1229.0 909.4,1229.3 913.5,1229.6 917.5,1229.7 921.6,1229.8 925.7,1229.7 929.8,1229.5 933.9,1229.2 938.0,1228.9 942.1,1228.4 946.2,1227.8 950.3,1227.1 954.4,1226.4 958.5,1225.5 962.6,1224.5 966.7,1223.5 970.8,1222.4 974.9,1221.1 979.0,1219.8 983.1,1218.4 987.1,1216.9 991.2,1215.3 995.3,1213.6 999.4,1211.8 1003.5,1209.9 1007.6,1208.0 1011.7,1205.9 1015.8,1203.8 1019.9,1201.5 1024.0,1199.2 1028.1,1196.8 1032.2,1194.3 1036.3,1191.7 1040.4,1189.0 1044.5,1186.2 1048.6,1183.4 1052.7,1180.4 1056.7,1177.4 1060.8,1174.2 1064.9,1171.0 1069.0,1167.7 1073.1,1164.3 1077.2,1160.9 1081.3,1157.3 1085.4,1153.7 1089.5,1150.0 1093.6,1146.2 1097.7,1142.3 1101.8,1138.4 1105.9,1134.4 1110.0,1130.3 1114.1,1126.2 1118.2,1122.0 1122.2,1117.8 1126.3,1113.5 1130.4,1109.2 1134.5,1104.8 1138.6,1100.4 1142.7,1096.0 1146.8,1091.6 1150.9,1087.2 1155.0,1082.7 1159.1,1078.3 1163.2,1073.9 1167.3,1069.5 1171.4,1065.1 1175.5,1060.7 1179.6,1056.3 1183.7,1051.9 1187.8,1047.6 1191.8,1043.4 1195.9,1039.2 1200.0,1035.0 1204.1,1030.9 1208.2,1026.9 1212.3,1023.0 1216.4,1019.2 1220.5,1015.4 1224.6,1011.8 1228.7,1008.3 1232.8,1004.9 1236.9,1001.7 1241.0,998.6 1245.1,995.6 1249.2,992.8 1253.3,990.1 1257.3,987.6 1261.4,985.3 1265.5,983.1 1269.6,981.1 1273.7,979.4 1277.8,977.8 1281.9,976.4 1286.0,975.2 1290.1,974.2 1294.2,973.4 1298.3,972.8 1302.4,972.4 1306.5,972.2 1310.6,972.3 1314.7,972.5 1318.8,973.0 1322.9,973.6 1326.9,974.5 1331.0,975.5 1335.1,976.8 1339.2,978.2 1343.3,979.9 1347.4,981.7 1351.5,983.7 1355.6,985.9 1359.7,988.2 1363.8,990.8 1367.9,993.5 1372.0,996.3 1376.1,999.4 1380.2,1002.5 1384.3,1005.8 1388.4,1009.3 1392.5,1012.9 1396.5,1016.5 1400.6,1020.3 1404.7,1024.3 1408.8,1028.3 1412.9,1032.4 1417.0,1036.6 1421.1,1040.8 1425.2,1045.1 1429.3,1049.5 1433.4,1054.0 1437.5,1058.5 1441.6,1063.0 1445.7,1067.6 1449.8,1072.2 1453.9,1076.8 1458.0,1081.4 1462.0,1086.0 1466.1,1090.7 1470.2,1095.3 1474.3,1099.9 1478.4,1104.5 1482.5,1109.1 1486.6,1113.6 1490.7,1118.1 1494.8,1122.6 1498.9,1127.1 1503.0,1131.5 1507.1,1135.7 1511.2,1140.0 1515.3,1144.1 1519.4,1148.2 1523.5,1152.3 1527.6,1156.3 1531.6,1160.2 1535.7,1164.0 1539.8,1167.8 1543.9,1171.5 1548.0,1175.1 1552.1,1178.7 1556.2,1182.2 1560.3,1185.6 1564.4,1188.9 1568.5,1192.1 1572.6,1195.3 1576.7,1198.4 1580.8,1201.4 1584.9,1204.3 1589.0,1207.1 1593.1,1209.9 1597.2,1212.6 1601.2,1215.2 1605.3,1217.7 1609.4,1220.2 1613.5,1222.6 1617.6,1224.9 1621.7,1227.1 1625.8,1229.3 1629.9,1231.4 1634.0,1233.4 1638.1,1235.4 1642.2,1237.3 1646.3,1239.1 1650.4,1240.8 1654.5,1242.5 1658.6,1244.2 1662.7,1245.7 1666.7,1247.3 1670.8,1248.7 1674.9,1250.1 1679.0,1251.5 1683.1,1252.8 1687.2,1254.0 1691.3,1255.2 1695.4,1256.4 1699.5,1257.5" stroke="#008000" stroke-width="10"/><polyline points="66.0,1250.0 70.1,1250.0 74.2,1250.0 78.3,1250.0 82.4,1250.0 86.5,1250.0 90.6,1250.1 94.7,1250.1 98.8,1250.1 102.8,1250.1 106.9,1250.1 111.0,1250.1 115.1,1250.1 119.2,1250.1 123.3,1250.1 127.4,1250.1 131.5,1250.1 135.6,1250.1 139.7,1250.2 143.8,1250.2 147.9,1250.2 152.0,1250.2 156.1,1250.2 160.2,1250.2 164.3,1250.2 168.3,1250.2 172.4,1250.2 176.5,1250.2 180.6,1250.2 184.7,1250.2 188.8,1250.2 192.9,1250.2 197.0,1250.2 201.1,1250.2 205.2,1250.2 209.3,1250.2 213.4,1250.2 217.5,1250.2 221.6,1250.2 225.7,1250.2 229.8,1250.2 233.9,1250.2 237.9,1250.2 242.0,1250.2 246.1,1250.2 250.2,1250.1 254.3,1250.1 258.4,1250.1 262.5,1250.1 266.6,1250.0 270.7,1250.0 274.8,1249.9 278.9,1249.9 283.0,1249.8 287.1,1249.7 291.2,1249.7 295.3,1249.6 299.4,1249.5 303.5,1249.4 307.5,1249.3 311.6,1249.2 315.7,1249.0 319.8,1248.9 323.9,1248.7 328.0,1248.6 332.1,1248.4 336.2,1248.1 340.3,1247.9 344.4,1247.6 348.5,1247.3 352.6,1247.0 356.7,1246.6 360.8,1246.2 364.9,1245.8 369.0,1245.3 373.0,1244.8 377.1,1244.2 381.2,1243.6 385.3,1242.9 389.4,1242.2 393.5,1241.4 397.6,1240.5 401.7,1239.6 405.8,1238.6 409.9,1237.6 414.0,1236.4 418.1,1235.2 422.2,1233.9 426.3,1232.5 430.4,1231.0 434.5,1229.4 438.6,1227.7 442.6,1225.9 446.7,1223.9 450.8,1221.9 454.9,1219.7 459.0,1217.5 463.1,1215.1 467.2,1212.5 471.3,1209.9 475.4,1207.1 479.5,1204.2 483.6,1201.1 487.7,1197.9 491.8,1194.6 495.9,1191.1 500.0,1187.5 504.1,1183.9 508.2,1180.1 512.2,1176.1 516.3,1172.1 520.4,1167.9 524.5,1163.7 528.6,1159.3 532.7,1154.8 536.8,1150.3 540.9,1145.7 545.0,1141.0 549.1,1136.3 553.2,1131.6 557.3,1126.9 561.4,1122.1 565.5,1117.4 569.6,1112.7 573.7,1108.1 577.7,1103.5 581.8,1099.1 585.9,1094.7 590.0,1090.5 594.1,1086.5 598.2,1082.6 602.3,1078.9 606.4,1075.4 610.5,1072.2 614.6,1069.2 618.7,1066.4 622.8,1064.0 626.9,1061.9 631.0,1060.0 635.1,1058.5 639.2,1057.3 643.3,1056.5 647.3,1056.0 651.4,1055.8 655.5,1056.0 659.6,1056.5 663.7,1057.2 667.8,1058.3 671.9,1059.7 676.0,1061.3 680.1,1063.3 684.2,1065.5 688.3,1067.9 692.4,1070.6 696.5,1073.5 700.6,1076.7 704.7,1080.0 708.8,1083.5 712.8,1087.2 716.9,1091.0 721.0,1095.0 725.1,1099.0 729.2,1103.2 733.3,1107.5 737.4,1111.9 741.5,1116.3 745.6,1120.7 749.7,1125.2 753.8,1129.6 757.9,1134.1 762.0,1138.5 766.1,1142.9 770.2,1147.3 774.3,1151.6 778.4,1155.9 782.4,1160.0 786.5,1164.1 790.6,1168.1 794.7,1172.0 798.8,1175.8 802.9,1179.5 807.0,1183.0 811.1,1186.4 815.2,1189.8 819.3,1192.9 823.4,1196.0 827.5,1198.9 831.6,1201.7 835.7,1204.3 839.8,1206.8 843.9,1209.2 848.0,1211.4 852.0,1213.5 856.1,1215.4 860.2,1217.3 864.3,1219.0 868.4,1220.5 872.5,1222.0 876.6,1223.3 880.7,1224.4 884.8,1225.5 888.9,1226.4 893.0,1227.2 897.1,1227.9 901.2,1228.5 905.3,1229.0 909.4,1229.3 913.5,1229.6 917.5,1229.7 921.6,1229.8 925.7,1229.7 929.8,1229.5 933.9,1229.2 938.0,1228.9 942.1,1228.4 946.2,1227.8 950.3,1227.1 954.4,1226.4 958.5,1225.5 962.6,1224.5 966.7,1223.5 970.8,1222.4 974.9,1221.1 979.0,1219.8 983.1,1218.4 987.1,1216.9 991.2,1215.3 995.3,1213.6 999.4,1211.8 1003.5,1209.9 1007.6,1208.0 1011.7,1205.9 1015.8,1203.8 1019.9,1201.5 1024.0,1199.2 1028.1,1196.8 1032.2,1194.3 1036.3,1191.7 1040.4,1189.0 1044.5,1186.2 1048.6,1183.4 1052.7,1180.4 1056.7,1177.4 1060.8,1174.2 1064.9,1171.0 1069.0,1167.7 1073.1,1164.3 1077.2,1160.9 1081.3,1157.3 1085.4,1153.7 1089.5,1150.0 1093.6,1146.2 1097.7,1142.3 1101.8,1138.4 1105.9,1134.4 1110.0,1130.3 1114.1,1126.2 1118.2,1122.0 1122.2,1117.8 1126.3,1113.5 1130.4,1109.2 1134.5,1104.8 1138.6,1100.4 1142.7,1096.0 1146.8,1091.6 1150.9,1087.2 1155.0,1082.7 1159.1,1078.3 1163.2,1073.9 1167.3,1069.5 1171.4,1065.1 1175.5,1060.7 1179.6,1056.3 1183.7,1051.9 1187.8,1047.6 1191.8,1043.4 1195.9,1039.2 1200.0,1035.0 1204.1,1030.9 1208.2,1026.9 1212.3,1023.0 1216.4,1019.2 1220.5,1015.4 1224.6,1011.8 1228.7,1008.3 1232.8,1004.9 1236.9,1001.7 1241.0,998.6 1245.1,995.6 1249.2,992.8 1253.3,990.1 1257.3,987.6 1261.4,985.3 1265.5,983.1 1269.6,981.1 1273.7,979.4 1277.8,977.8 1281.9,976.4 1286.0,975.2 1290.1,974.2 1294.2,973.4 1298.3,972.8 1302.4,972.4 1306.5,972.2 1310.6,972.3 1314.7,972.5 1318.8,973.0 1322.9,973.6 1326.9,974.5 1331.0,975.5 1335.1,976.8 1339.2,978.2 1343.3,979.9 1347.4,981.7 1351.5,983.7 1355.6,985.9 1359.7,988.2 1363.8,990.8 1367.9,993.5 1372.0,996.3 1376.1,999.4 1380.2,1002.5 1384.3,1005.8 1388.4,1009.3 1392.5,1012.9 1396.5,1016.5 1400.6,1020.3 1404.7,1024.3 1408.8,1028.3 1412.9,1032.4 1417.0,1036.6 1421.1,1040.8 1425.2,1045.1 1429.3,1049.5 1433.4,1054.0 1437.5,1058.5 1441.6,1063.0 1445.7,1067.6 1449.8,1072.2 1453.9,1076.8 1458.0,1081.4 1462.0,1086.0 1466.1,1090.7 1470.2,1095.3 1474.3,1099.9 1478.4,1104.5 1482.5,1109.1 1486.6,1113.6 1490.7,1118.1 1494.8,1122.6 1498.9,1127.1 1503.0,1131.5 1507.1,1135.7 1511.2,1140.0 1515.3,1144.1 1519.4,1148.2 1523.5,1152.3 1527.6,1156.3 1531.6,1160.2 1535.7,1164.0 1539.8,1167.8 1543.9,1171.5 1548.0,1175.1 1552.1,1178.7 1556.2,1182.2 1560.3,1185.6 1564.4,1188.9 1568.5,1192.1 1572.6,1195.3 1576.7,1198.4 1580.8,1201.4 1584.9,1204.3 1589.0,1207.1 1593.1,1209.9 1597.2,1212.6 1601.2,1215.2 1605.3,1217.7 1609.4,1220.2 1613.5,1222.6 1617.6,1224.9 1621.7,1227.1 1625.8,1229.3 1629.9,1231.4 1634.0,1233.4 1638.1,1235.4 1642.2,1237.3 1646.3,1239.1 1650.4,1240.8 1654.5,1242.5 1658.6,1244.2 1662.7,1245.7 1666.7,1247.3 1670.8,1248.7 1674.9,1250.1 1679.0,1251.5 1683.1,1252.8 1687.2,1254.0 1691.3,1255.2 1695.4,1256.4 1699.5,1257.5" stroke="#008000" stroke-width="7" shape-rendering="geometricPrecision"/>
</g>
<g stroke="#000" stroke-width="4" stroke-linecap="round" fill="none" shape-rendering="crispEdges">
<line x1="70" y1="108" x2="84" y2="108"/>
<line x1="70" y1="241" x2="84" y2="241"/>
<line x1="70" y1="374" x2="84" y2="374"/>
<line x1="70" y1="507" x2="84" y2="507"/>
<line x1="70" y1="640" x2="84" y2="640"/>
<line x1="70" y1="174.5" x2="76" y2="174.5"/>
<line x1="70" y1="307.5" x2="76" y2="307.5"/>
<line x1="70" y1="440.5" x2="76" y2="440.5"/>
<line x1="70" y1="573.5" x2="76" y2="573.5"/>
<line x1="68" y1="742.5" x2="83" y2="742.5"/>
<line x1="68" y1="923" x2="83" y2="923"/>
<line x1="68" y1="1104" x2="83" y2="1104"/>
<line x1="68" y1="1285" x2="83" y2="1285"/>
<line x1="68" y1="832.5" x2="75" y2="832.5"/>
<line x1="68" y1="1013.5" x2="75" y2="1013.5"/>
<line x1="68" y1="1194.5" x2="75" y2="1194.5"/>
<line x1="271.7" y1="704" x2="271.7" y2="689"/>
<line x1="475.9" y1="704" x2="475.9" y2="689"/>
<line x1="680.1" y1="704" x2="680.1" y2="689"/>
<line x1="884.3" y1="704" x2="884.3" y2="689"/>
<line x1="1088.5" y1="704" x2="1088.5" y2="689"/>
<line x1="1292.6" y1="704" x2="1292.6" y2="689"/>
<line x1="1496.8" y1="704" x2="1496.8" y2="689"/>
<line x1="169.6" y1="704" x2="169.6" y2="697"/>
<line x1="373.8" y1="704" x2="373.8" y2="697"/>
<line x1="578.0" y1="704" x2="578.0" y2="697"/>
<line x1="782.2" y1="704" x2="782.2" y2="697"/>
<line x1="986.4" y1="704" x2="986.4" y2="697"/>
<line x1="1190.5" y1="704" x2="1190.5" y2="697"/>
<line x1="1394.7" y1="704" x2="1394.7" y2="697"/>
<line x1="1598.9" y1="704" x2="1598.9" y2="697"/>
<line x1="474.4" y1="1374" x2="474.4" y2="1359"/>
<line x1="882.8" y1="1374" x2="882.8" y2="1359"/>
<line x1="1291.1" y1="1374" x2="1291.1" y2="1359"/>
<line x1="270.2" y1="1374" x2="270.2" y2="1367"/>
<line x1="678.6" y1="1374" x2="678.6" y2="1367"/>
<line x1="1087.0" y1="1374" x2="1087.0" y2="1367"/>
<line x1="1495.3" y1="1374" x2="1495.3" y2="1367"/>
</g>
<g font-family="'Liberation Serif', 'Times New Roman', serif" fill="#000">
<text x="65.5" y="1434.5" font-size="54" text-anchor="middle">238</text>
<text x="474" y="1434.5" font-size="54" text-anchor="middle">236</text>
<text x="882.5" y="1434.5" font-size="54" text-anchor="middle">234</text>
<text x="1291" y="1434.5" font-size="54" text-anchor="middle">232</text>
<text x="1699.3" y="1434.5" font-size="54" text-anchor="middle">230</text>
<text x="884.2" y="1529" font-size="57.5" font-weight="bold" text-anchor="middle">Binding Energy (eV)</text>
<text transform="scale(0.972,1)" y="137" font-size="59.5" font-weight="bold"><tspan x="130.14" y="137">Na</tspan><tspan x="202.16" y="158" font-size="34.5">2</tspan><tspan x="220.68" y="137">MoO</tspan><tspan x="352.37" y="158" font-size="34.5">4</tspan></text>
<text transform="scale(0.972,1)" y="817.5" font-size="59.5" font-weight="bold"><tspan x="111.11" y="817.5">CLS</tspan><tspan x="224.79" y="817.5">+Na</tspan><tspan x="330.25" y="838.5" font-size="34.5">2</tspan><tspan x="349.28" y="817.5">MoO</tspan><tspan x="480.97" y="838.5" font-size="34.5">4</tspan></text>
</g>
</svg>
</body></html>
